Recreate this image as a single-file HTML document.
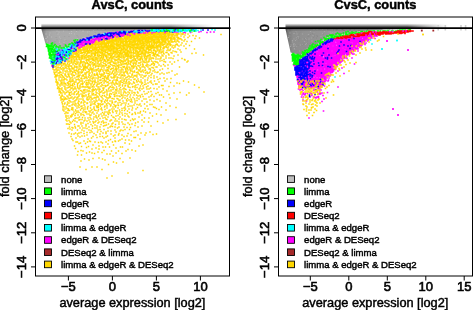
<!DOCTYPE html>
<html><head><meta charset="utf-8"><style>
html,body{margin:0;padding:0;background:#fff;overflow:hidden}
body{width:473px;height:310px}
svg{display:block;will-change:transform}
text{stroke:#000;stroke-width:.45px}
.tk{stroke-width:.6px}
</style></head><body>
<svg width="473" height="310" viewBox="0 0 473 310">
<rect width="473" height="310" fill="#fff"/>
<clipPath id="c0"><rect x="35.5" y="17" width="194" height="259"/></clipPath>
<g clip-path="url(#c0)"><linearGradient id="hL" gradientUnits="userSpaceOnUse" x1="41.2" x2="212" y1="0" y2="0"><stop offset="0" stop-color="#707070"/><stop offset="0.015" stop-color="#8c8c8c"/><stop offset="0.03" stop-color="#a0a0a0"/><stop offset="0.07" stop-color="#aaaaaa"/><stop offset="0.5" stop-color="#b0b0b0"/><stop offset="0.8" stop-color="#c0c0c0"/><stop offset="1" stop-color="#e0e0e0"/></linearGradient>
<polygon fill="url(#hL)"  points="41.2,28.2 212,28.2 212,29 205,29.1 160,29.4 145,29.9 135,30.4 125,31.1 115,31.9 105,33 95,35.2 85,38.2 80,39.8 75,42.3 68,46.5 62,48.5 56,47.5 50,44 45.4,43.5"/>
<path stroke="#bcbcbc" stroke-width="1.2" stroke-linecap="square" d="M103 29.5h0m-29 .5h0m1.5 0h0m49.5 0h0m-45 .5h0m3 0h0m10.5 0h0m-36.5 .5h0m6.5 0h0m55 0h0m-47 .5h0m5 0h0m6.5 0h0m6.5 0h0m-30.5 .5h0m28.5 0h0m13.5 0h0m4 0h0m4 0h0m-59 1h0m44.5 0h0m-25 .5h0m2 0h0m-25.5 .5h0m12 0h0m16.5 0h0m-25 1h0m-2 2h0m4 0h0m8 0h0m23.5 .5h0m1.5 0h0m-38.5 1h0m15 0h0m16.5 0h0m-12.5 1.5h0m11.5 .5h0m-29 .5h0m12 0h0m-9.5 1h0m9.5 .5h0m4.5 0h0m9 0h0m-3 .5h0m-9 1h0m-3.5 1.5h0m0 .5h0"/>
<path stroke="#a2a2a2" stroke-width="1.2" stroke-linecap="square" d="M97.5 29.5h0m8 0h0m29 0h0m6 0h0m-64.5 .5h0m47.5 0h0m-54.5 .5h0m44 0h0m0 0h0m-23 .5h0m-43.5 1.5h0m48.5 0h0m-38 .5h0m42.5 .5h0m-11 1.5h0m-11.5 .5h0m-12.5 1h0m4.5 0h0m9 .5h0m-22 .5h0m.5 0h0m5 1.5h0m-4.5 .5h0m0 .5h0m9 .5h0m-15.5 .5h0m4 .5h0m1 0h0m-1 .5h0m0 1h0m9.5 1h0m1 0h0m-5.5 2.5h0"/>
<linearGradient id="vL" x1="0" x2="0" y1="0" y2="1"><stop offset="0" stop-color="#000" stop-opacity="0.3"/><stop offset="1" stop-color="#000" stop-opacity="0"/></linearGradient>
<rect x="41.7" y="28.5" width="140.8" height="3" fill="url(#vL)"/>
<linearGradient id="aL" x1="0" x2="0" y1="0" y2="1"><stop offset="0" stop-color="#7a7a7a" stop-opacity="0.05"/><stop offset="0.35" stop-color="#7a7a7a" stop-opacity="0.45"/><stop offset="0.75" stop-color="#7a7a7a" stop-opacity="1"/></linearGradient>
<linearGradient id="faL" gradientUnits="userSpaceOnUse" x1="41.2" x2="214" y1="0" y2="0"><stop offset="0" stop-color="#fff"/><stop offset="0.75" stop-color="#fff"/><stop offset="1" stop-color="#000"/></linearGradient>
<mask id="mL"><rect x="41.2" y="23" width="172.8" height="6" fill="url(#faL)"/></mask>
<rect mask="url(#mL)" x="41.2" y="23.6" width="172.8" height="4.2" fill="url(#aL)"/>
<path stroke="#FFD700" stroke-width="1.45" stroke-linecap="square" d="M166 31.5h0m4 0h0m-26.5 .5h0m2 0h0m3.5 0h0m1 0h0m1.5 0h0m.5 0h0m1 0h0m3 0h0m1 0h0m.5 0h0m3.5 0h0m1 0h0m5.5 0h0m3.5 0h0m2 0h0m7.5 0h0m11.5 0h0m-46.5 .5h0m2.5 0h0m2.5 0h0m13 0h0m6 0h0m2.5 0h0m-45 .5h0m1 0h0m2 0h0m2 0h0m4 0h0m1 0h0m3 0h0m3.5 0h0m2.5 0h0m1.5 0h0m1.5 0h0m4 0h0m1 0h0m1.5 0h0m3.5 0h0m1.5 0h0m1 0h0m.5 0h0m1 0h0m1 0h0m1 0h0m1 0h0m1 0h0m1 0h0m1 0h0m5 0h0m2 0h0m7 0h0m2.5 0h0m-54.5 .5h0m.5 0h0m7 0h0m10.5 0h0m2 0h0m5 0h0m.5 0h0m1.5 0h0m11.5 0h0m.5 0h0m2 0h0m5 0h0m1 0h0m.5 0h0m-51.5 .5h0m2 0h0m1 0h0m5 0h0m2 0h0m2 0h0m1 0h0m.5 0h0m1.5 0h0m1 0h0m2.5 0h0m.5 0h0m4.5 0h0m2.5 0h0m2 0h0m1 0h0m5 0h0m3 0h0m1 0h0m1 0h0m1.5 0h0m1.5 0h0m7 0h0m3 0h0m2 0h0m1 0h0m6 0h0m-62 .5h0m6 0h0m1 0h0m4 0h0m7 0h0m2.5 0h0m1.5 0h0m1 0h0m3 0h0m0 0h0m2 0h0m0 0h0m3 0h0m1 0h0m1 0h0m1 0h0m0 0h0m3 0h0m.5 0h0m2 0h0m8 0h0m9.5 0h0m38 0h0m-112 .5h0m1 0h0m8 0h0m7 0h0m6 0h0m2 0h0m1 0h0m1 0h0m1.5 0h0m1.5 0h0m1 0h0m1 0h0m1 0h0m2 0h0m1 0h0m1 0h0m1.5 0h0m1.5 0h0m2 0h0m1 0h0m4 0h0m2 0h0m2 0h0m3 0h0m6 0h0m1 0h0m1 0h0m1.5 0h0m1 0h0m1.5 0h0m2 0h0m1.5 0h0m7.5 0h0m-63 .5h0m6 0h0m1 0h0m3 0h0m2 0h0m1 0h0m2 0h0m10 0h0m6 0h0m8.5 0h0m3 0h0m28.5 0h0m-77 .5h0m1 0h0m7 0h0m.5 0h0m1.5 0h0m1 0h0m2 0h0m1 0h0m2.5 0h0m3.5 0h0m2.5 0h0m1 0h0m1 0h0m.5 0h0m1 0h0m1 0h0m2 0h0m1 0h0m2 0h0m3 0h0m3 0h0m1 0h0m1 0h0m1 0h0m3 0h0m4 0h0m.5 0h0m1.5 0h0m.5 0h0m1.5 0h0m1 0h0m3 0h0m3 0h0m2 0h0m4 0h0m8.5 0h0m6.5 0h0m-84.5 .5h0m1 0h0m5.5 0h0m2.5 0h0m2 0h0m5.5 0h0m3 0h0m7 0h0m11 0h0m3 0h0m6 0h0m1 0h0m2 0h0m2 0h0m-64.5 .5h0m12 0h0m4.5 0h0m1 0h0m2.5 0h0m2.5 0h0m.5 0h0m2.5 0h0m2 0h0m3 0h0m1.5 0h0m2 0h0m.5 0h0m.5 0h0m1.5 0h0m2 0h0m1.5 0h0m3.5 0h0m1.5 0h0m.5 0h0m.5 0h0m1.5 0h0m4 0h0m1 0h0m2 0h0m1 0h0m2 0h0m1 0h0m2 0h0m1 0h0m1 0h0m1 0h0m3 0h0m1 0h0m2.5 0h0m2.5 0h0m2 0h0m11 0h0m-90 .5h0m1 0h0m19 0h0m2 0h0m2 0h0m0 0h0m3 0h0m3.5 0h0m2.5 0h0m1 0h0m8 0h0m5 0h0m6 0h0m1 0h0m7 0h0m2.5 0h0m2.5 0h0m3.5 0h0m0 0h0m7 0h0m3.5 0h0m3 0h0m1.5 0h0m9.5 0h0m-91 .5h0m10 0h0m2 0h0m3 0h0m3 0h0m4 0h0m5.5 0h0m1.5 0h0m2 0h0m1 0h0m.5 0h0m2 0h0m.5 0h0m1 0h0m2 0h0m3 0h0m1 0h0m1 0h0m1 0h0m2 0h0m1.5 0h0m1.5 0h0m3 0h0m1 0h0m1.5 0h0m1.5 0h0m2 0h0m1.5 0h0m1.5 0h0m3 0h0m4 0h0m.5 0h0m2 0h0m1.5 0h0m1 0h0m1.5 0h0m3.5 0h0m24.5 0h0m-89.5 .5h0m2 0h0m8.5 0h0m1.5 0h0m3 0h0m2 0h0m7 0h0m3 0h0m2.5 0h0m3 0h0m1.5 0h0m4.5 0h0m3.5 0h0m6.5 0h0m4 0h0m1.5 0h0m7 0h0m7 0h0m2 0h0m15 0h0m-104 .5h0m1.5 0h0m8.5 0h0m2 0h0m1 0h0m4 0h0m3 0h0m2 0h0m2 0h0m1 0h0m1 0h0m1 0h0m1 0h0m1 0h0m2 0h0m1 0h0m1 0h0m1.5 0h0m1.5 0h0m1 0h0m2 0h0m1 0h0m1 0h0m3 0h0m1 0h0m1 0h0m1 0h0m1.5 0h0m2.5 0h0m1 0h0m3 0h0m1 0h0m2 0h0m1 0h0m1 0h0m1 0h0m1 0h0m6 0h0m2 0h0m1 0h0m3 0h0m1 0h0m4.5 0h0m1.5 0h0m1 0h0m1 0h0m5 0h0m2 0h0m-79 .5h0m3 0h0m3 0h0m4.5 0h0m3.5 0h0m3 0h0m1 0h0m7 0h0m3.5 0h0m9.5 0h0m4 0h0m1.5 0h0m.5 0h0m2.5 0h0m5.5 0h0m1 0h0m2 0h0m0 0h0m10 0h0m1 0h0m7 0h0m10 0h0m-88.5 .5h0m7.5 0h0m2 0h0m1 0h0m2 0h0m2 0h0m2.5 0h0m1.5 0h0m2 0h0m4 0h0m2 0h0m2.5 0h0m3.5 0h0m3 0h0m1.5 0h0m1.5 0h0m3 0h0m1 0h0m2 0h0m1 0h0m.5 0h0m4.5 0h0m2 0h0m2 0h0m1 0h0m1 0h0m.5 0h0m2.5 0h0m2 0h0m1 0h0m.5 0h0m2 0h0m1 0h0m1.5 0h0m4 0h0m3 0h0m4 0h0m2 0h0m5 0h0m-79 .5h0m1.5 0h0m1.5 0h0m5.5 0h0m4.5 0h0m10.5 0h0m3.5 0h0m4 0h0m3 0h0m8 0h0m0 0h0m3 0h0m14.5 0h0m3.5 0h0m-67.5 .5h0m1.5 0h0m1 0h0m2 0h0m1 0h0m3 0h0m2 0h0m1 0h0m2.5 0h0m1.5 0h0m1 0h0m2 0h0m1 0h0m.5 0h0m1.5 0h0m1 0h0m1 0h0m.5 0h0m1.5 0h0m2.5 0h0m2 0h0m5.5 0h0m1.5 0h0m.5 0h0m1 0h0m3 0h0m1 0h0m1 0h0m1 0h0m2.5 0h0m1.5 0h0m1 0h0m3 0h0m.5 0h0m1 0h0m1.5 0h0m.5 0h0m3.5 0h0m1.5 0h0m3.5 0h0m2 0h0m3 0h0m2 0h0m2 0h0m5.5 0h0m.5 0h0m6 0h0m-93 .5h0m4 0h0m1 0h0m4 0h0m.5 0h0m7.5 0h0m1.5 0h0m1.5 0h0m14 0h0m3 0h0m0 0h0m3 0h0m2 0h0m5.5 0h0m1.5 0h0m5.5 0h0m3.5 0h0m0 0h0m1 0h0m7 0h0m6.5 0h0m5.5 0h0m5.5 0h0m12.5 0h0m4.5 0h0m-110.5 .5h0m16 0h0m1.5 0h0m.5 0h0m3.5 0h0m2 0h0m2.5 0h0m3 0h0m1 0h0m3 0h0m2 0h0m2 0h0m.5 0h0m5 0h0m2 0h0m.5 0h0m1.5 0h0m2 0h0m.5 0h0m1 0h0m1 0h0m1 0h0m1 0h0m1 0h0m.5 0h0m2.5 0h0m1 0h0m3.5 0h0m1.5 0h0m3 0h0m3 0h0m1 0h0m2.5 0h0m1 0h0m0 0h0m1.5 0h0m2 0h0m1 0h0m2 0h0m1.5 0h0m1.5 0h0m1.5 0h0m3 0h0m3 0h0m.5 0h0m1 0h0m3 0h0m3 0h0m-83 .5h0m5 0h0m2 0h0m9 0h0m.5 0h0m8 0h0m1.5 0h0m.5 0h0m10.5 0h0m7.5 0h0m5.5 0h0m2.5 0h0m5 0h0m4.5 0h0m1.5 0h0m5.5 0h0m1 0h0m-90.5 .5h0m4.5 0h0m12.5 0h0m2.5 0h0m1 0h0m3 0h0m3 0h0m1 0h0m2 0h0m1 0h0m2 0h0m1 0h0m1 0h0m2 0h0m1 0h0m1 0h0m2.5 0h0m0 0h0m1.5 0h0m2 0h0m1 0h0m1 0h0m1 0h0m2.5 0h0m.5 0h0m1 0h0m2.5 0h0m.5 0h0m2 0h0m3 0h0m2.5 0h0m0 0h0m2.5 0h0m1 0h0m2 0h0m4.5 0h0m1.5 0h0m3 0h0m3 0h0m1 0h0m1.5 0h0m4.5 0h0m8 0h0m12 0h0m-84 .5h0m2 0h0m4 0h0m3.5 0h0m29.5 0h0m5 0h0m1.5 0h0m1 0h0m.5 0h0m16 0h0m7 0h0m-91 .5h0m7 0h0m.5 0h0m3.5 0h0m4.5 0h0m2 0h0m1 0h0m1.5 0h0m4 0h0m1.5 0h0m2 0h0m1.5 0h0m.5 0h0m4.5 0h0m1 0h0m2 0h0m1 0h0m1.5 0h0m0 0h0m1.5 0h0m2.5 0h0m3.5 0h0m4 0h0m1.5 0h0m1.5 0h0m1 0h0m2 0h0m.5 0h0m1.5 0h0m2 0h0m1 0h0m1.5 0h0m2.5 0h0m4 0h0m2.5 0h0m2 0h0m.5 0h0m2 0h0m.5 0h0m2 0h0m3.5 0h0m.5 0h0m2.5 0h0m2 0h0m2 0h0m2.5 0h0m7.5 0h0m9 0h0m-100.5 .5h0m6.5 0h0m1 0h0m5 0h0m2 0h0m6.5 0h0m2 0h0m10.5 0h0m4 0h0m3 0h0m4 0h0m2.5 0h0m13.5 0h0m13 0h0m5 0h0m6.5 0h0m5.5 0h0m-88.5 .5h0m1.5 0h0m1 0h0m.5 0h0m3.5 0h0m1 0h0m1 0h0m.5 0h0m1.5 0h0m1 0h0m3 0h0m2 0h0m1.5 0h0m5 0h0m2 0h0m1.5 0h0m2 0h0m1 0h0m2 0h0m1 0h0m1 0h0m2 0h0m2 0h0m1.5 0h0m.5 0h0m6.5 0h0m1.5 0h0m.5 0h0m1.5 0h0m1 0h0m1 0h0m2 0h0m2 0h0m1 0h0m2 0h0m1 0h0m2 0h0m.5 0h0m4.5 0h0m7 0h0m1.5 0h0m4.5 0h0m1 0h0m3 0h0m6.5 0h0m3.5 0h0m-88.5 .5h0m0 0h0m6.5 0h0m2 0h0m10 0h0m5.5 0h0m1.5 0h0m1 0h0m5.5 0h0m3.5 0h0m.5 0h0m.5 0h0m3 0h0m2 0h0m3 0h0m5.5 0h0m8.5 0h0m1.5 0h0m3.5 0h0m2 0h0m5 0h0m7 0h0m3 0h0m2 0h0m14.5 0h0m-116 .5h0m7.5 0h0m5.5 0h0m1.5 0h0m2 0h0m1.5 0h0m10.5 0h0m2 0h0m2 0h0m1 0h0m1 0h0m1 0h0m1 0h0m1.5 0h0m1 0h0m5.5 0h0m3 0h0m1 0h0m2 0h0m2 0h0m3 0h0m2 0h0m2 0h0m1 0h0m5 0h0m2 0h0m1 0h0m2 0h0m1 0h0m2 0h0m1 0h0m1.5 0h0m1.5 0h0m2 0h0m1 0h0m2 0h0m1 0h0m2 0h0m1 0h0m.5 0h0m5.5 0h0m13 0h0m5 0h0m-115 .5h0m7 0h0m8.5 0h0m11 0h0m9.5 0h0m9 0h0m9 0h0m7 0h0m19 0h0m9 0h0m-80.5 .5h0m4.5 0h0m1 0h0m1.5 0h0m1.5 0h0m2 0h0m1 0h0m4 0h0m1 0h0m1 0h0m2 0h0m1 0h0m1 0h0m1 0h0m1 0h0m1 0h0m.5 0h0m1 0h0m2 0h0m1.5 0h0m1 0h0m2.5 0h0m1.5 0h0m1.5 0h0m.5 0h0m1 0h0m2 0h0m2 0h0m1 0h0m.5 0h0m2.5 0h0m1 0h0m2 0h0m1 0h0m.5 0h0m1 0h0m2 0h0m2.5 0h0m2 0h0m2 0h0m1 0h0m2 0h0m1 0h0m1 0h0m2.5 0h0m3 0h0m2.5 0h0m2 0h0m2 0h0m2 0h0m1 0h0m3 0h0m1 0h0m3 0h0m1 0h0m1.5 0h0m2 0h0m3.5 0h0m3 0h0m-105 .5h0m8.5 0h0m3.5 0h0m2 0h0m6.5 0h0m1.5 0h0m6 0h0m6 0h0m6 0h0m22 0h0m4 0h0m7.5 0h0m3.5 0h0m2 0h0m1.5 0h0m2.5 0h0m1.5 0h0m12.5 0h0m-90 .5h0m1.5 0h0m1.5 0h0m3 0h0m4.5 0h0m.5 0h0m2 0h0m.5 0h0m1.5 0h0m2 0h0m.5 0h0m1.5 0h0m3.5 0h0m2.5 0h0m1 0h0m3 0h0m1.5 0h0m1.5 0h0m1 0h0m3 0h0m3 0h0m1 0h0m2 0h0m1 0h0m1 0h0m.5 0h0m2 0h0m1 0h0m3 0h0m2.5 0h0m1 0h0m2 0h0m1.5 0h0m1 0h0m2 0h0m1.5 0h0m1 0h0m1 0h0m2 0h0m3 0h0m2.5 0h0m5.5 0h0m2 0h0m2 0h0m5 0h0m10.5 0h0m-101 .5h0m8 0h0m5.5 0h0m11 0h0m2.5 0h0m6.5 0h0m5 0h0m3.5 0h0m3.5 0h0m1 0h0m14.5 0h0m4 0h0m5 0h0m1 0h0m3 0h0m4.5 0h0m1 0h0m8.5 0h0m3.5 0h0m22 0h0m-111.5 .5h0m1.5 0h0m1 0h0m3 0h0m4 0h0m1 0h0m.5 0h0m4 0h0m0 0h0m3 0h0m2 0h0m1 0h0m5 0h0m1.5 0h0m2 0h0m4 0h0m1 0h0m3 0h0m1 0h0m1 0h0m2 0h0m5.5 0h0m1.5 0h0m1 0h0m1 0h0m1 0h0m1 0h0m2.5 0h0m.5 0h0m6 0h0m3 0h0m2 0h0m3 0h0m3.5 0h0m3.5 0h0m3 0h0m3 0h0m3.5 0h0m2.5 0h0m5 0h0m2.5 0h0m7.5 0h0m16.5 0h0m-132.5 .5h0m11 0h0m5.5 0h0m4.5 0h0m1 0h0m3.5 0h0m6.5 0h0m1 0h0m4 0h0m0 0h0m9 0h0m9 0h0m16 0h0m.5 0h0m5.5 0h0m10 0h0m1 0h0m4 0h0m-96.5 .5h0m15.5 0h0m6.5 0h0m1.5 0h0m1 0h0m1 0h0m2 0h0m2 0h0m5.5 0h0m.5 0h0m3.5 0h0m1.5 0h0m3 0h0m1 0h0m1 0h0m2 0h0m1.5 0h0m1 0h0m2 0h0m1.5 0h0m1 0h0m4 0h0m1.5 0h0m3.5 0h0m1 0h0m1 0h0m2.5 0h0m5 0h0m.5 0h0m2 0h0m2 0h0m5 0h0m.5 0h0m2.5 0h0m3 0h0m2.5 0h0m2 0h0m7.5 0h0m1 0h0m2 0h0m9 0h0m10 0h0m-91 .5h0m1.5 0h0m1 0h0m4.5 0h0m3 0h0m2.5 0h0m12.5 0h0m5.5 0h0m1.5 0h0m6 0h0m1 0h0m3 0h0m6 0h0m0 0h0m7.5 0h0m4.5 0h0m4.5 0h0m1.5 0h0m12 0h0m2 0h0m-93 .5h0m1 0h0m1 0h0m2 0h0m.5 0h0m3.5 0h0m2 0h0m2 0h0m1 0h0m3 0h0m2 0h0m4 0h0m5 0h0m1 0h0m1 0h0m4 0h0m1 0h0m3 0h0m5 0h0m3.5 0h0m2.5 0h0m1 0h0m3 0h0m1 0h0m6.5 0h0m5 0h0m1.5 0h0m2 0h0m2 0h0m5.5 0h0m5.5 0h0m2.5 0h0m3.5 0h0m.5 0h0m9.5 0h0m-92 .5h0m6 0h0m5 0h0m3.5 0h0m10 0h0m5.5 0h0m4.5 0h0m.5 0h0m4.5 0h0m10.5 0h0m2.5 0h0m2.5 0h0m3.5 0h0m6 0h0m10 0h0m19.5 0h0m-118 .5h0m3 0h0m14 0h0m4.5 0h0m.5 0h0m5 0h0m1.5 0h0m2 0h0m3.5 0h0m6.5 0h0m2 0h0m1.5 0h0m2 0h0m2 0h0m2.5 0h0m3.5 0h0m2 0h0m1 0h0m2 0h0m1 0h0m6 0h0m1 0h0m1 0h0m2 0h0m1 0h0m1.5 0h0m4 0h0m2.5 0h0m1.5 0h0m1.5 0h0m3.5 0h0m4 0h0m1.5 0h0m8 0h0m3 0h0m2 0h0m1 0h0m14.5 0h0m4.5 0h0m-118 .5h0m9.5 0h0m4 0h0m5.5 0h0m1 0h0m1 0h0m4.5 0h0m1 0h0m7.5 0h0m1 0h0m4.5 0h0m3.5 0h0m1 0h0m8 0h0m3 0h0m1 0h0m5 0h0m5.5 0h0m2 0h0m10.5 0h0m7 0h0m1 0h0m.5 0h0m2.5 0h0m.5 0h0m12.5 0h0m1 0h0m4 0h0m-106 .5h0m2.5 0h0m5 0h0m.5 0h0m2 0h0m.5 0h0m2.5 0h0m3 0h0m4 0h0m2.5 0h0m1.5 0h0m4 0h0m1 0h0m.5 0h0m1 0h0m1 0h0m3.5 0h0m1 0h0m4 0h0m2.5 0h0m3.5 0h0m5 0h0m4.5 0h0m.5 0h0m1 0h0m4 0h0m1.5 0h0m3.5 0h0m2 0h0m.5 0h0m1.5 0h0m2.5 0h0m1 0h0m2.5 0h0m2 0h0m1.5 0h0m1.5 0h0m6 0h0m7 0h0m2 0h0m2.5 0h0m8.5 0h0m24 0h0m-116 .5h0m0 0h0m2 0h0m10 0h0m16.5 0h0m1 0h0m1.5 0h0m2 0h0m1 0h0m11 0h0m9 0h0m8 0h0m6 0h0m7.5 0h0m36.5 0h0m-118 .5h0m1 0h0m2 0h0m9.5 0h0m.5 0h0m4 0h0m1 0h0m2 0h0m1.5 0h0m2.5 0h0m4 0h0m1 0h0m1 0h0m5 0h0m3.5 0h0m3.5 0h0m.5 0h0m1 0h0m2 0h0m1.5 0h0m1.5 0h0m4.5 0h0m2 0h0m7 0h0m1 0h0m2 0h0m4 0h0m2 0h0m8.5 0h0m1.5 0h0m9 0h0m4.5 0h0m-112.5 .5h0m20 0h0m2 0h0m6 0h0m24 0h0m18 0h0m2.5 0h0m2.5 0h0m9 0h0m1 0h0m8.5 0h0m8 0h0m-100 .5h0m14 0h0m1.5 0h0m6 0h0m7.5 0h0m5.5 0h0m2.5 0h0m3 0h0m2 0h0m2.5 0h0m2 0h0m1 0h0m1 0h0m2 0h0m1.5 0h0m.5 0h0m2 0h0m3 0h0m3.5 0h0m.5 0h0m2 0h0m3 0h0m1.5 0h0m5.5 0h0m2 0h0m4 0h0m1.5 0h0m5.5 0h0m1.5 0h0m4 0h0m1 0h0m6 0h0m1.5 0h0m4 0h0m7 0h0m9 0h0m25.5 0h0m-121.5 .5h0m1 0h0m3 0h0m3 0h0m6.5 0h0m5 0h0m.5 0h0m10 0h0m16.5 0h0m10.5 0h0m10 0h0m5 0h0m1.5 0h0m3 0h0m-88 .5h0m2 0h0m1.5 0h0m3.5 0h0m1.5 0h0m1 0h0m2 0h0m1.5 0h0m2.5 0h0m3 0h0m1.5 0h0m1.5 0h0m1 0h0m2.5 0h0m3 0h0m.5 0h0m5 0h0m3.5 0h0m5 0h0m3.5 0h0m2 0h0m2.5 0h0m2.5 0h0m1 0h0m3 0h0m2 0h0m1 0h0m1.5 0h0m1 0h0m3.5 0h0m1 0h0m6 0h0m2 0h0m3.5 0h0m1.5 0h0m5.5 0h0m4.5 0h0m4 0h0m3 0h0m8 0h0m-111.5 .5h0m4.5 0h0m7 0h0m1 0h0m2.5 0h0m21.5 0h0m4.5 0h0m2 0h0m8 0h0m3.5 0h0m1.5 0h0m8.5 0h0m6.5 0h0m6 0h0m6.5 0h0m-76 .5h0m2.5 0h0m3 0h0m2.5 0h0m4 0h0m2 0h0m1 0h0m2 0h0m1 0h0m2.5 0h0m3 0h0m8 0h0m5 0h0m1.5 0h0m2.5 0h0m.5 0h0m2 0h0m1 0h0m4 0h0m3 0h0m2.5 0h0m1.5 0h0m5 0h0m4 0h0m3 0h0m1 0h0m3 0h0m1 0h0m2.5 0h0m2.5 0h0m3.5 0h0m5.5 0h0m5 0h0m-89 .5h0m7.5 0h0m16.5 0h0m7.5 0h0m12.5 0h0m.5 0h0m3.5 0h0m8 0h0m4 0h0m-61 .5h0m3 0h0m2.5 0h0m2.5 0h0m2 0h0m1.5 0h0m2.5 0h0m1 0h0m3 0h0m3 0h0m3 0h0m1.5 0h0m1.5 0h0m2 0h0m.5 0h0m1.5 0h0m4.5 0h0m0 0h0m3 0h0m1.5 0h0m1.5 0h0m9.5 0h0m2 0h0m6 0h0m1 0h0m3 0h0m3 0h0m7.5 0h0m2.5 0h0m2 0h0m3 0h0m1 0h0m8 0h0m5 0h0m3 0h0m2 0h0m-111 .5h0m7.5 0h0m14.5 0h0m10.5 0h0m26.5 0h0m12 0h0m9 0h0m1 0h0m5 0h0m7.5 0h0m19.5 0h0m9 0h0m-120.5 .5h0m1.5 0h0m2 0h0m2 0h0m2 0h0m2 0h0m2 0h0m3 0h0m6 0h0m2 0h0m6 0h0m1 0h0m2.5 0h0m4.5 0h0m2 0h0m3 0h0m4 0h0m2 0h0m3 0h0m2 0h0m4 0h0m6 0h0m2.5 0h0m1.5 0h0m6 0h0m1 0h0m.5 0h0m2.5 0h0m4.5 0h0m7.5 0h0m1 0h0m5 0h0m2 0h0m2 0h0m-102.5 .5h0m19.5 0h0m2 0h0m.5 0h0m7.5 0h0m1 0h0m5.5 0h0m2.5 0h0m8.5 0h0m10.5 0h0m27.5 0h0m21.5 0h0m20.5 0h0m-121.5 .5h0m8.5 0h0m3 0h0m2.5 0h0m4 0h0m5 0h0m2 0h0m1 0h0m3.5 0h0m2.5 0h0m2 0h0m3 0h0m2 0h0m3 0h0m2.5 0h0m3.5 0h0m5 0h0m1 0h0m2 0h0m1.5 0h0m3.5 0h0m2 0h0m6.5 0h0m.5 0h0m6 0h0m1 0h0m.5 0h0m4.5 0h0m1.5 0h0m2.5 0h0m36 0h0m-123 .5h0m2 0h0m29.5 0h0m7.5 0h0m8 0h0m8 0h0m5 0h0m6 0h0m7.5 0h0m26.5 0h0m16 0h0m-111 .5h0m1.5 0h0m1.5 0h0m2 0h0m2 0h0m1 0h0m6 0h0m5.5 0h0m2.5 0h0m6 0h0m3 0h0m1 0h0m5 0h0m1.5 0h0m2 0h0m3.5 0h0m1 0h0m3 0h0m9 0h0m1.5 0h0m3.5 0h0m2 0h0m1 0h0m2 0h0m3 0h0m6 0h0m8.5 0h0m8.5 0h0m28 0h0m-125.5 .5h0m18 0h0m3.5 0h0m7 0h0m30 0h0m15.5 0h0m12.5 0h0m6 0h0m9 0h0m-95 .5h0m2.5 0h0m2.5 0h0m2.5 0h0m1.5 0h0m4 0h0m1 0h0m1 0h0m12 0h0m2 0h0m3 0h0m5 0h0m5 0h0m2 0h0m5 0h0m1 0h0m3.5 0h0m1 0h0m0 0h0m4.5 0h0m2.5 0h0m10.5 0h0m2 0h0m1.5 0h0m2 0h0m1.5 0h0m5 0h0m3 0h0m1 0h0m8.5 0h0m4.5 0h0m4.5 0h0m12.5 0h0m-99.5 .5h0m2.5 0h0m.5 0h0m2 0h0m.5 0h0m10 0h0m0 0h0m6.5 0h0m21.5 0h0m14 0h0m-88.5 .5h0m4 0h0m1.5 0h0m3 0h0m2.5 0h0m3.5 0h0m2 0h0m5 0h0m2 0h0m1 0h0m4 0h0m1 0h0m12 0h0m3 0h0m7 0h0m2 0h0m3.5 0h0m1 0h0m1.5 0h0m2 0h0m2.5 0h0m6 0h0m2 0h0m4.5 0h0m1.5 0h0m1.5 0h0m2.5 0h0m.5 0h0m1 0h0m18 0h0m-106 .5h0m11.5 0h0m11.5 0h0m10.5 0h0m2 0h0m7.5 0h0m9 0h0m4 0h0m2 0h0m4.5 0h0m10.5 0h0m28.5 0h0m-97.5 .5h0m4 0h0m4 0h0m1 0h0m2.5 0h0m2 0h0m6.5 0h0m1 0h0m3 0h0m3 0h0m5.5 0h0m3.5 0h0m2 0h0m3 0h0m3 0h0m5.5 0h0m10.5 0h0m6 0h0m1.5 0h0m.5 0h0m2 0h0m.5 0h0m3.5 0h0m6 0h0m6.5 0h0m4.5 0h0m5 0h0m2.5 0h0m17.5 0h0m-114 .5h0m3 0h0m12 0h0m3 0h0m14 0h0m9 0h0m11.5 0h0m17.5 0h0m2.5 0h0m3 0h0m2.5 0h0m7 0h0m8.5 0h0m12 0h0m-111.5 .5h0m2 0h0m3 0h0m2 0h0m4 0h0m3 0h0m3 0h0m10 0h0m3.5 0h0m2.5 0h0m4 0h0m4.5 0h0m1.5 0h0m6.5 0h0m5 0h0m5.5 0h0m6.5 0h0m1.5 0h0m1.5 0h0m19 0h0m7.5 0h0m11 0h0m9 0h0m-65 .5h0m3 0h0m8 0h0m3 0h0m21 0h0m8 0h0m4 0h0m4 0h0m-101 .5h0m8.5 0h0m3.5 0h0m2 0h0m3 0h0m1 0h0m.5 0h0m3 0h0m5.5 0h0m3 0h0m5 0h0m2.5 0h0m2.5 0h0m3 0h0m1 0h0m1 0h0m2 0h0m3.5 0h0m1.5 0h0m3.5 0h0m.5 0h0m4 0h0m2 0h0m12 0h0m4.5 0h0m1.5 0h0m2 0h0m4 0h0m4 0h0m3.5 0h0m14.5 0h0m4 0h0m-111 .5h0m2 0h0m12.5 0h0m8.5 0h0m7 0h0m1.5 0h0m13 0h0m11.5 0h0m8 0h0m5 0h0m1.5 0h0m-69.5 .5h0m3 0h0m17 0h0m1.5 0h0m2.5 0h0m2 0h0m6 0h0m8.5 0h0m6 0h0m.5 0h0m14 0h0m3 0h0m4 0h0m4 0h0m2 0h0m3 0h0m2 0h0m2.5 0h0m5.5 0h0m2 0h0m4 0h0m8 0h0m1 0h0m22.5 0h0m-119 .5h0m2.5 0h0m3 0h0m6 0h0m35 0h0m1 0h0m13 0h0m3 0h0m16 0h0m12 0h0m-99 .5h0m4 0h0m2 0h0m4 0h0m2 0h0m4 0h0m5 0h0m3 0h0m6.5 0h0m1.5 0h0m1 0h0m1.5 0h0m2.5 0h0m1 0h0m2.5 0h0m10.5 0h0m5 0h0m4.5 0h0m2.5 0h0m2.5 0h0m7.5 0h0m4 0h0m3.5 0h0m11.5 0h0m8.5 0h0m-86.5 .5h0m6 0h0m25.5 0h0m13 0h0m1 0h0m15 0h0m9.5 0h0m13 0h0m18 0h0m-115 .5h0m3 0h0m5 0h0m.5 0h0m2.5 0h0m5 0h0m1 0h0m2 0h0m7 0h0m1 0h0m4 0h0m8.5 0h0m5.5 0h0m3.5 0h0m14 0h0m1.5 0h0m5 0h0m3.5 0h0m6.5 0h0m4.5 0h0m4 0h0m8.5 0h0m13.5 0h0m-79.5 .5h0m5.5 0h0m2.5 0h0m5 0h0m5 0h0m6 0h0m1 0h0m2.5 0h0m.5 0h0m19 0h0m-76 .5h0m1 0h0m2 0h0m.5 0h0m1.5 0h0m4 0h0m7 0h0m4 0h0m2.5 0h0m2 0h0m3 0h0m4 0h0m4 0h0m2.5 0h0m2 0h0m3 0h0m3 0h0m3 0h0m2 0h0m9 0h0m2 0h0m3 0h0m2 0h0m2 0h0m3 0h0m2 0h0m10.5 0h0m.5 0h0m4 0h0m2.5 0h0m5 0h0m4 0h0m5.5 0h0m-93 .5h0m8 0h0m8.5 0h0m12.5 0h0m20.5 0h0m14 0h0m14.5 0h0m-88 .5h0m6 0h0m2 0h0m5 0h0m1.5 0h0m5.5 0h0m15 0h0m2 0h0m2 0h0m2.5 0h0m2 0h0m2.5 0h0m3 0h0m1 0h0m1.5 0h0m4.5 0h0m17.5 0h0m1.5 0h0m2.5 0h0m5.5 0h0m2 0h0m11 0h0m19 0h0m-112 .5h0m29 0h0m32 0h0m5 0h0m-72 .5h0m2 0h0m10 0h0m2 0h0m2 0h0m2.5 0h0m1.5 0h0m4 0h0m1 0h0m2 0h0m1.5 0h0m4.5 0h0m1 0h0m4 0h0m7.5 0h0m10.5 0h0m2.5 0h0m2.5 0h0m2 0h0m2 0h0m4 0h0m2 0h0m2.5 0h0m5.5 0h0m1.5 0h0m3.5 0h0m3 0h0m2.5 0h0m3.5 0h0m3 0h0m5 0h0m3 0h0m-102 .5h0m5 0h0m14.5 0h0m6.5 0h0m22 0h0m17 0h0m15.5 0h0m20.5 0h0m12 0h0m-114.5 .5h0m3.5 0h0m1 0h0m.5 0h0m3.5 0h0m9.5 0h0m6.5 0h0m2 0h0m4 0h0m1.5 0h0m3.5 0h0m2.5 0h0m4.5 0h0m7.5 0h0m2 0h0m5.5 0h0m3 0h0m9 0h0m3 0h0m3 0h0m8 0h0m7.5 0h0m3.5 0h0m13 0h0m5 0h0m-59 .5h0m1 0h0m38.5 0h0m4.5 0h0m-97.5 .5h0m10.5 0h0m.5 0h0m2.5 0h0m1 0h0m2 0h0m5 0h0m2 0h0m7 0h0m4 0h0m5.5 0h0m5 0h0m2.5 0h0m2 0h0m7 0h0m2.5 0h0m3.5 0h0m3 0h0m4 0h0m4 0h0m4.5 0h0m6.5 0h0m21 0h0m4 0h0m13 0h0m-115.5 .5h0m35 0h0m1 0h0m3.5 0h0m21 0h0m10 0h0m-76 .5h0m1.5 0h0m2.5 0h0m5 0h0m3.5 0h0m3.5 0h0m1 0h0m7 0h0m3 0h0m.5 0h0m2.5 0h0m3 0h0m3 0h0m2 0h0m3 0h0m6 0h0m6.5 0h0m4.5 0h0m2 0h0m3 0h0m18 0h0m3 0h0m2 0h0m9 0h0m24 0h0m-119.5 .5h0m6.5 0h0m12 0h0m.5 0h0m4.5 0h0m10.5 0h0m5.5 0h0m13 0h0m14.5 0h0m2.5 0h0m7 0h0m3 0h0m11 0h0m-89 .5h0m2 0h0m3.5 0h0m3.5 0h0m3 0h0m9 0h0m4 0h0m1.5 0h0m14.5 0h0m3 0h0m1 0h0m3.5 0h0m9.5 0h0m6 0h0m3 0h0m4.5 0h0m.5 0h0m5 0h0m2 0h0m8 0h0m5 0h0m5 0h0m-77 .5h0m14 0h0m13 0h0m41 0h0m-90 .5h0m1 0h0m4.5 0h0m3 0h0m3.5 0h0m.5 0h0m2 0h0m3 0h0m4.5 0h0m2 0h0m6 0h0m1.5 0h0m2 0h0m4.5 0h0m6 0h0m9 0h0m.5 0h0m2.5 0h0m2.5 0h0m1.5 0h0m2 0h0m10.5 0h0m2.5 0h0m1 0h0m6 0h0m4 0h0m16 0h0m-93 .5h0m36.5 0h0m4.5 0h0m2 0h0m11 0h0m8 0h0m7 0h0m18 0h0m-92 .5h0m3 0h0m9 0h0m4 0h0m6.5 0h0m3.5 0h0m5 0h0m4 0h0m2 0h0m2 0h0m14 0h0m2 0h0m6 0h0m1 0h0m2 0h0m20 0h0m5 0h0m6 0h0m10 0h0m-83 .5h0m3 0h0m3 0h0m5 0h0m10.5 0h0m1.5 0h0m2.5 0h0m53.5 0h0m11 0h0m-115 .5h0m8.5 0h0m1.5 0h0m4 0h0m3 0h0m5.5 0h0m3.5 0h0m10.5 0h0m5.5 0h0m9 0h0m1.5 0h0m8.5 0h0m8 0h0m4 0h0m6 0h0m3 0h0m29 0h0m-90 .5h0m50 0h0m7 0h0m24 0h0m-101.5 .5h0m2.5 0h0m2.5 0h0m1.5 0h0m1 0h0m3 0h0m5 0h0m4 0h0m3 0h0m.5 0h0m9.5 0h0m1 0h0m5 0h0m5 0h0m1 0h0m3.5 0h0m9.5 0h0m2 0h0m6 0h0m2 0h0m7 0h0m10 0h0m4 0h0m2.5 0h0m-77.5 .5h0m16 0h0m2 0h0m12 0h0m9.5 0h0m.5 0h0m7.5 0h0m19 0h0m-76 .5h0m13 0h0m7.5 0h0m1.5 0h0m8.5 0h0m2 0h0m2 0h0m3 0h0m5 0h0m3 0h0m6.5 0h0m3.5 0h0m4.5 0h0m6 0h0m12 0h0m12.5 0h0m3.5 0h0m10.5 0h0m18.5 0h0m-127.5 .5h0m13 0h0m3 0h0m33 0h0m19 0h0m5 0h0m-73 .5h0m1.5 0h0m4.5 0h0m2 0h0m6.5 0h0m4.5 0h0m1 0h0m3.5 0h0m5 0h0m4.5 0h0m3.5 0h0m2 0h0m3.5 0h0m10 0h0m11 0h0m2 0h0m5 0h0m7.5 0h0m3.5 0h0m3 0h0m1.5 0h0m3.5 0h0m5 0h0m9 0h0m29.5 0h0m-120.5 .5h0m18.5 0h0m9.5 0h0m5.5 0h0m5.5 0h0m6 0h0m9.5 0h0m48 0h0m-113.5 .5h0m1 0h0m3 0h0m3 0h0m3.5 0h0m6.5 0h0m4.5 0h0m4 0h0m5.5 0h0m12 0h0m4 0h0m7 0h0m1 0h0m3.5 0h0m1 0h0m11.5 0h0m2 0h0m4 0h0m.5 0h0m8 0h0m5.5 0h0m3.5 0h0m25.5 0h0m-115 .5h0m3.5 0h0m12 0h0m5.5 0h0m7 0h0m2 0h0m17 0h0m11 0h0m4 0h0m2 0h0m53.5 0h0m-121.5 .5h0m6 0h0m4.5 0h0m1.5 0h0m2.5 0h0m8.5 0h0m1.5 0h0m3.5 0h0m8.5 0h0m3 0h0m1.5 0h0m15 0h0m3 0h0m1 0h0m11.5 0h0m2.5 0h0m9.5 0h0m4.5 0h0m9.5 0h0m1.5 0h0m-97 .5h0m14.5 0h0m8 0h0m5.5 0h0m14 0h0m36 0h0m6.5 0h0m8.5 0h0m-96 .5h0m5 0h0m4 0h0m11.5 0h0m9 0h0m4.5 0h0m2.5 0h0m3.5 0h0m11 0h0m4 0h0m3 0h0m5 0h0m2.5 0h0m5.5 0h0m8 0h0m58.5 0h0m-126.5 .5h0m3 0h0m1.5 0h0m7.5 0h0m23 0h0m2 0h0m2.5 0h0m18 0h0m36 0h0m1.5 0h0m-103 .5h0m4 0h0m6 0h0m3 0h0m23.5 0h0m4.5 0h0m5 0h0m13 0h0m3.5 0h0m2.5 0h0m10 0h0m5.5 0h0m2.5 0h0m5 0h0m26 0h0m-116 .5h0m19.5 0h0m5.5 0h0m5 0h0m4.5 0h0m8.5 0h0m4.5 0h0m5 0h0m17.5 0h0m5 0h0m36 0h0m-104 .5h0m4.5 0h0m5.5 0h0m2.5 0h0m2.5 0h0m2 0h0m2 0h0m1.5 0h0m1.5 0h0m3 0h0m2 0h0m2 0h0m4 0h0m1 0h0m11 0h0m3 0h0m3.5 0h0m12 0h0m4 0h0m14 0h0m12.5 0h0m-101 .5h0m10.5 0h0m43.5 0h0m8.5 0h0m9.5 0h0m5 0h0m2 0h0m62 0h0m-140 .5h0m3 0h0m3 0h0m2 0h0m4 0h0m1.5 0h0m2.5 0h0m3 0h0m2 0h0m8.5 0h0m14.5 0h0m1 0h0m5 0h0m5 0h0m10 0h0m16 0h0m3.5 0h0m7 0h0m-93 .5h0m2 0h0m11.5 0h0m19 0h0m13 0h0m51 0h0m-93 .5h0m4 0h0m9 0h0m2 0h0m3 0h0m14 0h0m2.5 0h0m2.5 0h0m1.5 0h0m9 0h0m8.5 0h0m2.5 0h0m3.5 0h0m2 0h0m14 0h0m3 0h0m5 0h0m2 0h0m8 0h0m6 0h0m-78 .5h0m8.5 0h0m6.5 0h0m13 0h0m3 0h0m10 0h0m9.5 0h0m-76.5 .5h0m3 0h0m4 0h0m4 0h0m3 0h0m10.5 0h0m1.5 0h0m2 0h0m5 0h0m2.5 0h0m2 0h0m7 0h0m3 0h0m4.5 0h0m4.5 0h0m5.5 0h0m8.5 0h0m-49 .5h0m.5 0h0m8 0h0m41 0h0m10 0h0m-80 .5h0m3 0h0m5 0h0m8.5 0h0m7.5 0h0m9 0h0m6 0h0m3 0h0m5 0h0m2 0h0m2 0h0m6 0h0m2 0h0m5 0h0m8 0h0m35 0h0m-88.5 .5h0m3.5 0h0m6 0h0m2 0h0m54 0h0m7 0h0m-92 .5h0m1.5 0h0m3.5 0h0m3 0h0m4.5 0h0m3 0h0m.5 0h0m3.5 0h0m7.5 0h0m6 0h0m4 0h0m5 0h0m4 0h0m2 0h0m8 0h0m6 0h0m4 0h0m3 0h0m9.5 0h0m11 0h0m55.5 0h0m-140 .5h0m2 0h0m3 0h0m1 0h0m30 0h0m13 0h0m21 0h0m24 0h0m22 0h0m-119.5 .5h0m1.5 0h0m16 0h0m5 0h0m1.5 0h0m12.5 0h0m6 0h0m1 0h0m12.5 0h0m2.5 0h0m4.5 0h0m2.5 0h0m3.5 0h0m2.5 0h0m3 0h0m3 0h0m36 0h0m15 0h0m-115 .5h0m15 0h0m4.5 0h0m5.5 0h0m11 0h0m37 0h0m9 0h0m-91 .5h0m4.5 0h0m2.5 0h0m5 0h0m4 0h0m11 0h0m15 0h0m4.5 0h0m3.5 0h0m6 0h0m24 0h0m-71 .5h0m2.5 0h0m2.5 0h0m9.5 0h0m7.5 0h0m18 0h0m14 0h0m14 0h0m10 0h0m17 0h0m-109.5 .5h0m2.5 0h0m7 0h0m13.5 0h0m3.5 0h0m7 0h0m2 0h0m4.5 0h0m7.5 0h0m2.5 0h0m13.5 0h0m7.5 0h0m3.5 0h0m2.5 0h0m23 0h0m2 0h0m25 0h0m-116 .5h0m13.5 0h0m18.5 0h0m2 0h0m12.5 0h0m4.5 0h0m3.5 0h0m15 0h0m-77.5 .5h0m4.5 0h0m12 0h0m3 0h0m4 0h0m3 0h0m2 0h0m6 0h0m7.5 0h0m5 0h0m5.5 0h0m2 0h0m2 0h0m8 0h0m11 0h0m13 0h0m-90 .5h0m23 0h0m17 0h0m9.5 0h0m4 0h0m5.5 0h0m23 0h0m11 0h0m-90 .5h0m4 0h0m4 0h0m3 0h0m3 0h0m4.5 0h0m5.5 0h0m9 0h0m1.5 0h0m7.5 0h0m17 0h0m7 0h0m10.5 0h0m8.5 0h0m14.5 0h0m-102.5 .5h0m16 0h0m13 0h0m5 0h0m7 0h0m8 0h0m23 0h0m-72.5 .5h0m5 0h0m5 0h0m.5 0h0m3 0h0m13 0h0m4.5 0h0m2.5 0h0m2 0h0m11 0h0m1.5 0h0m16.5 0h0m12 0h0m33 0h0m-101 .5h0m43 0h0m.5 0h0m4.5 0h0m5 0h0m5.5 0h0m-65.5 .5h0m2 0h0m2 0h0m1 0h0m6 0h0m4 0h0m2 0h0m2 0h0m2 0h0m6 0h0m3.5 0h0m6.5 0h0m4 0h0m11 0h0m4 0h0m13 0h0m3.5 0h0m4.5 0h0m5 0h0m2 0h0m31 0h0m-114.5 .5h0m2 0h0m22.5 0h0m70 0h0m-96 .5h0m15 0h0m7 0h0m5 0h0m3 0h0m5 0h0m3 0h0m6.5 0h0m2 0h0m12.5 0h0m6.5 0h0m2.5 0h0m2.5 0h0m18.5 0h0m-81 .5h0m32 0h0m18 0h0m18 0h0m-73.5 .5h0m6.5 0h0m4.5 0h0m.5 0h0m3.5 0h0m5.5 0h0m10 0h0m3 0h0m5 0h0m5 0h0m3 0h0m2 0h0m11 0h0m4 0h0m8 0h0m7 0h0m12 0h0m6 0h0m-81 .5h0m25.5 0h0m11.5 0h0m14.5 0h0m-68.5 .5h0m5.5 0h0m3.5 0h0m2 0h0m8.5 0h0m3.5 0h0m5 0h0m2 0h0m3.5 0h0m6 0h0m13.5 0h0m17 0h0m15 0h0m-85 .5h0m43 0h0m7.5 0h0m7.5 0h0m-55 .5h0m4 0h0m6 0h0m3 0h0m3 0h0m2.5 0h0m3.5 0h0m.5 0h0m7 0h0m13.5 0h0m4 0h0m6 0h0m6 0h0m2 0h0m9 0h0m31 0h0m-79 .5h0m11 0h0m24 0h0m-59.5 .5h0m2 0h0m3 0h0m5.5 0h0m3 0h0m2.5 0h0m12.5 0h0m2 0h0m6 0h0m1.5 0h0m2.5 0h0m3.5 0h0m3 0h0m19 0h0m11.5 0h0m4.5 0h0m-49.5 .5h0m7 0h0m12 0h0m23 0h0m13 0h0m2 0h0m-85 .5h0m5 0h0m2.5 0h0m5 0h0m4.5 0h0m.5 0h0m6.5 0h0m7.5 0h0m12.5 0h0m7 0h0m3 0h0m4.5 0h0m8.5 0h0m5 0h0m-48.5 .5h0m16.5 0h0m9 0h0m2.5 0h0m-55.5 .5h0m6 0h0m1 0h0m6 0h0m2 0h0m4 0h0m14.5 0h0m1.5 0h0m2.5 0h0m4.5 0h0m2 0h0m3.5 0h0m4.5 0h0m15 0h0m2 0h0m9 0h0m6 0h0m23 0h0m-89 .5h0m7 0h0m40 0h0m-65 .5h0m1 0h0m2 0h0m19 0h0m9 0h0m10.5 0h0m8.5 0h0m2.5 0h0m9.5 0h0m28.5 0h0m8 0h0m-89.5 .5h0m7 0h0m18 0h0m1.5 0h0m39 0h0m17.5 0h0m21 0h0m-103 .5h0m4 0h0m6 0h0m4.5 0h0m3 0h0m11 0h0m5.5 0h0m11 0h0m6 0h0m8.5 0h0m-65.5 .5h0m14.5 0h0m12.5 0h0m28 0h0m23 0h0m11.5 0h0m-93.5 .5h0m2 0h0m3.5 0h0m3.5 0h0m13 0h0m2.5 0h0m13.5 0h0m11 0h0m2 0h0m11.5 0h0m3.5 0h0m7 0h0m12 0h0m-76.5 .5h0m20.5 0h0m6.5 0h0m6.5 0h0m54 0h0m-96 .5h0m10 0h0m2.5 0h0m5 0h0m3 0h0m11 0h0m7.5 0h0m8 0h0m9.5 0h0m12.5 0h0m34 0h0m-98 .5h0m1.5 0h0m21.5 0h0m5 0h0m13 0h0m13 0h0m2.5 0h0m-60.5 .5h0m12 0h0m2 0h0m11 0h0m9 0h0m14.5 0h0m3 0h0m1.5 0h0m10.5 0h0m16 0h0m-58.5 .5h0m55.5 0h0m-74.5 .5h0m8 0h0m9 0h0m3.5 0h0m3.5 0h0m3 0h0m12 0h0m2 0h0m2 0h0m11 0h0m25.5 0h0m-68.5 .5h0m2 0h0m6.5 0h0m17 0h0m10.5 0h0m16.5 0h0m5.5 0h0m-68 .5h0m1 0h0m24 0h0m5 0h0m13 0h0m6.5 0h0m5.5 0h0m16 0h0m2 0h0m10 0h0m-85 .5h0m10.5 0h0m5.5 0h0m23 0h0m4 0h0m17 0h0m-51.5 .5h0m13.5 0h0m2 0h0m5 0h0m7 0h0m18.5 0h0m7.5 0h0m5.5 0h0m3 0h0m21 0h0m28.5 0h0m-113 .5h0m11 0h0m25.5 0h0m23.5 0h0m-54 .5h0m3 0h0m10 0h0m8 0h0m5 0h0m18.5 0h0m19.5 0h0m19 0h0m-95 .5h0m9 0h0m9 0h0m6 0h0m6 0h0m10 0h0m5.5 0h0m6.5 0h0m-50 .5h0m2.5 0h0m1.5 0h0m30 0h0m14 0h0m9 0h0m3 0h0m24.5 0h0m-54 .5h0m-32.5 .5h0m5 0h0m8.5 0h0m14.5 0h0m2 0h0m12 0h0m5 0h0m7 0h0m9 0h0m10 0h0m-56.5 .5h0m7.5 0h0m15 0h0m9 0h0m-45 .5h0m7 0h0m2 0h0m7 0h0m3 0h0m9 0h0m6 0h0m41.5 0h0m4.5 0h0m-82 .5h0m8 0h0m25 0h0m-9 .5h0m2.5 0h0m12.5 0h0m9.5 0h0m3.5 0h0m3 0h0m10.5 0h0m2.5 0h0m-55 .5h0m2 0h0m25 0h0m17.5 0h0m51.5 0h0m-110 .5h0m7.5 0h0m5.5 0h0m6 0h0m4 0h0m9 0h0m13 0h0m.5 0h0m14.5 0h0m7.5 0h0m8.5 0h0m26 0h0m-99 .5h0m61.5 0h0m-63.5 .5h0m8 0h0m9 0h0m3 0h0m9 0h0m7 0h0m7 0h0m5 0h0m2 0h0m-44.5 .5h0m20.5 0h0m64.5 0h0m-87.5 .5h0m7 0h0m13 0h0m5 0h0m4 0h0m2.5 0h0m17.5 0h0m3 0h0m16 0h0m6 0h0m4.5 0h0m-67.5 .5h0m23 0h0m2 0h0m-35 .5h0m12 0h0m10.5 0h0m4.5 0h0m5.5 0h0m9.5 0h0m15 0h0m7.5 0h0m27.5 0h0m-75 .5h0m-21.5 .5h0m1.5 0h0m13 0h0m27.5 0h0m3.5 0h0m7 0h0m4 0h0m9 0h0m-62.5 .5h0m5 0h0m11.5 0h0m5 0h0m10 0h0m14.5 0h0m9.5 0h0m4.5 0h0m-34.5 .5h0m11.5 0h0m-1.5 .5h0m30 0h0m-57 .5h0m1 0h0m3 0h0m4 0h0m6.5 0h0m4.5 0h0m6.5 0h0m7.5 0h0m31 0h0m9 0h0m-76 .5h0m37.5 0h0m-43 .5h0m19.5 0h0m11 0h0m10 0h0m5 0h0m4 0h0m5 0h0m14 0h0m-66 .5h0m55 0h0m3.5 0h0m-57.5 .5h0m2.5 0h0m4.5 0h0m3 0h0m2 0h0m10 0h0m2 0h0m11 0h0m9.5 0h0m-49.5 .5h0m19 0h0m5.5 0h0m-22.5 .5h0m30 .5h0m4 0h0m21 0h0m4.5 0h0m-57.5 .5h0m5.5 0h0m4.5 0h0m7 0h0m9 0h0m17 0h0m6 0h0m-30 .5h0m32 0h0m-39 .5h0m24 0h0m3 0h0m9 0h0m16 0h0m-35 .5h0m33 0h0m-42 .5h0m5.5 0h0m8.5 0h0m10 0h0m34 0h0m-69 .5h0m6 0h0m3 0h0m-21 .5h0m6.5 0h0m3.5 0h0m24 0h0m38 0h0m5 0h0m-62 .5h0m10 0h0m12 0h0m13 0h0m9 0h0m-56.5 .5h0m2.5 0h0m3.5 0h0m22.5 0h0m11 0h0m45.5 0h0m-3.5 .5h0m-66 .5h0m9 0h0m19 0h0m3.5 0h0m3.5 0h0m9 0h0m7 0h0m7 0h0m-67 1h0m4 0h0m2.5 0h0m23 0h0m6 0h0m13.5 0h0m-56 .5h0m22 0h0m7 0h0m2.5 0h0m21.5 0h0m-44 .5h0m26 0h0m-9 .5h0m37 0h0m1.5 0h0m-59.5 .5h0m15.5 0h0m12.5 0h0m11 0h0m-43 1h0m16 0h0m34 0h0m18 0h0m-29.5 .5h0m9.5 .5h0m5.5 0h0m3.5 0h0m-56 .5h0m35.5 0h0m-24.5 .5h0m5.5 0h0m25.5 0h0m3.5 0h0m13 0h0m-41 .5h0m25 0h0m-39.5 .5h0m1.5 0h0m10 0h0m7.5 0h0m6 0h0m5 0h0m6.5 0h0m-14 .5h0m-18 .5h0m22 0h0m22.5 0h0m-46 .5h0m6.5 0h0m22.5 .5h0m21.5 0h0m-36.5 1h0m20.5 0h0m29.5 0h0m-68.5 1h0m24.5 0h0m40 0h0m-57.5 .5h0m7 0h0m14.5 .5h0m2.5 0h0m4 0h0m11 0h0m2 0h0m-36 .5h0m9.5 .5h0m20 0h0m-40.5 .5h0m16.5 .5h0m7 0h0m29 .5h0m4 .5h0m-51 .5h0m23 0h0m-21 .5h0m28.5 0h0m7 0h0m7.5 0h0m9.5 0h0m-57.5 .5h0m11.5 .5h0m8.5 0h0m4 .5h0m-15.5 .5h0m5.5 0h0m24 0h0m-21.5 .5h0m27.5 0h0m-15 .5h0m3 0h0m-32.5 1h0m4 0h0m31.5 1h0m-14 2h0m31 0h0m-37 .5h0m27 0h0m-35.5 .5h0m18 0h0m-13.5 1h0m16 0h0m-24 1h0m32.5 1h0m9.5 0h0m-6.5 1h0m-8 1.5h0m-28.5 2.5h0m12 0h0m5 0h0m-11 2.5h0m16 0h0m41 1h0m-15 2.5h0m-16 3h0m-5 2h0"/>
<path stroke="#FF00FF" stroke-width="1.6" stroke-linecap="square" d="M131.5 31h0m14.5 0h0m55 .5h0m-83.5 .5h0m36.5 0h0m1 0h0m4 0h0m15 0h0m1 0h0m2 0h0m22 0h0m11.5 0h0m3.5 0h0m-93.5 .5h0m14.5 0h0m3 0h0m4 0h0m5.5 0h0m17.5 0h0m19 0h0m1 0h0m5.5 0h0m16.5 0h0m-99 .5h0m5 0h0m5.5 0h0m2 0h0m12.5 0h0m1 0h0m5 0h0m2 0h0m3 0h0m1 0h0m7 0h0m-37 1h0m.5 0h0m5.5 0h0m1 0h0m1 0h0m.5 0h0m1.5 0h0m3 0h0m6.5 0h0m-21.5 .5h0m2.5 0h0m-1.5 .5h0m2 0h0m3.5 0h0m1.5 0h0m2.5 0h0m.5 0h0m3.5 0h0m-23.5 .5h0m7 0h0m2 0h0m10 0h0m7 0h0m-25 .5h0m1.5 0h0m.5 0h0m2.5 0h0m5 0h0m4.5 0h0m2 0h0m1.5 0h0m-20.5 .5h0m1 0h0m-4 .5h0m1 0h0m.5 0h0m2.5 0h0m.5 0h0m1 0h0m4 0h0m1.5 0h0m3.5 0h0m3.5 0h0m-10 .5h0m3.5 0h0m-14.5 .5h0m2 0h0m3 0h0m2 0h0m1 0h0m4 0h0m2 0h0m2.5 0h0m-15 .5h0m1 0h0m2 0h0m5 0h0m-20.5 .5h0m8 0h0m1 0h0m1.5 0h0m.5 0h0m2.5 0h0m0 0h0m1.5 0h0m9 0h0m-16 .5h0m3 0h0m4 0h0m5 0h0m-17 .5h0m1.5 0h0m2.5 0h0m2 0h0m1 0h0m3 0h0m3 0h0m-16 .5h0m6 0h0m4 0h0m-16 .5h0m2.5 0h0m2.5 0h0m3 0h0m1 0h0m1 0h0m2 0h0m1 0h0m7 0h0m-13 .5h0m1 0h0m7 0h0m-12 .5h0m1 0h0m1 0h0m1 0h0m3 0h0m1 0h0m1 0h0m2 0h0m1 0h0m1 0h0m-8 .5h0m-7 .5h0m2 0h0m1 0h0m1 0h0m.5 0h0m2 0h0m.5 0h0m1 0h0m1 0h0m1 0h0m1 0h0m1 0h0m2 0h0m-15 .5h0m1 0h0m1.5 .5h0m1.5 0h0m7.5 0h0m-9.5 .5h0m-1 .5h0m1 0h0m1.5 0h0m0 0h0m1.5 0h0m1.5 0h0m-.5 .5h0m-11 .5h0m3 0h0m2 0h0m.5 0h0m4 0h0m-8 1h0m5.5 0h0m1 0h0m-8.5 .5h0m-.5 .5h0m1.5 0h0m1.5 0h0m4 0h0m-22.5 .5h0m2.5 1h0m2 0h0m7.5 0h0m2.5 0h0m-10 .5h0m-1 1h0m1 0h0m4 0h0m10.5 0h0m-9.5 1h0m-8 1.5h0m-2 .5h0m2 0h0m.5 0h0m4.5 0h0m2 0h0m5.5 0h0m-13.5 .5h0m7 0h0m-7 .5h0m6 0h0m6.5 0h0m-6.5 1h0m3 0h0m-5 1h0m-5 1h0m3.5 0h0m2 0h0m4 0h0m3.5 0h0m-9.5 1h0m-1 .5h0m8 0h0m-10.5 .5h0m1 1h0m-2 2h0m4 0h0m-7 3h0"/>
<path stroke="#0000FF" stroke-width="1.6" stroke-linecap="square" d="M164 29.5h0m-8 .5h0m2.5 0h0m16.5 0h0m1.5 0h0m15.5 0h0m1.5 0h0m9.5 0h0m5 0h0m-69.5 .5h0m1 0h0m2.5 0h0m3 0h0m5.5 0h0m44.5 0h0m-61 .5h0m3.5 0h0m5.5 0h0m4 0h0m.5 0h0m1.5 0h0m7.5 0h0m5.5 0h0m3 0h0m2 0h0m8 0h0m6 0h0m-57 .5h0m7 0h0m1 0h0m1 0h0m37 0h0m8.5 0h0m-59 .5h0m1.5 0h0m2 0h0m2 0h0m1 0h0m2.5 0h0m1.5 0h0m1.5 0h0m3.5 0h0m5.5 0h0m32 0h0m-56.5 .5h0m13.5 0h0m8.5 0h0m1.5 0h0m-30 .5h0m1.5 0h0m1 0h0m2 0h0m1 0h0m4 0h0m2 0h0m1 0h0m2 0h0m1 0h0m-20 .5h0m3 0h0m6 0h0m3 0h0m-10.5 .5h0m1 0h0m2.5 0h0m3.5 0h0m3.5 0h0m2 0h0m6.5 0h0m-26.5 .5h0m3.5 0h0m8.5 0h0m7 0h0m-20 .5h0m2 0h0m1.5 0h0m1.5 0h0m2 0h0m1.5 0h0m1 0h0m.5 0h0m11 0h0m-17 .5h0m2 0h0m4 0h0m4 0h0m-18 .5h0m1.5 0h0m.5 0h0m5.5 0h0m.5 0h0m7 0h0m1.5 0h0m-15.5 .5h0m1.5 0h0m1.5 0h0m2 0h0m20 0h0m-29 .5h0m1 0h0m2 0h0m3 0h0m16 0h0m-23 .5h0m2.5 0h0m-5.5 .5h0m1 0h0m.5 0h0m2 0h0m.5 0h0m-1.5 .5h0m16.5 0h0m-22.5 .5h0m4 0h0m.5 0h0m1.5 0h0m17.5 0h0m-24 .5h0m1 0h0m18 0h0m-21.5 .5h0m2 0h0m3 0h0m.5 0h0m3 0h0m-7 .5h0m-2 .5h0m-3 1h0m2 0h0m1.5 0h0m-2.5 .5h0m-3 .5h0m2 0h0m-2 1h0m10.5 0h0m1 0h0m3.5 0h0m-17 .5h0m-1 .5h0m3 0h0m2 0h0m1 0h0m-6 1h0m5 0h0m-6 1h0m0 1h0m-4 1h0m7.5 0h0m-9 .5h0m3.5 0h0m0 0h0m-6 .5h0m5 0h0m2 0h0m6 0h0m-20.5 1h0m7 0h0m4.5 0h0m3.5 0h0m2.5 0h0m1 0h0m-16.5 .5h0m-1.5 .5h0m7 0h0m4 0h0m-13 .5h0m7 0h0m2.5 0h0m2.5 0h0m-7 .5h0m11.5 0h0m-13.5 .5h0m10.5 0h0m1.5 0h0m-9 .5h0m2.5 0h0m-7.5 1h0m5.5 0h0m4.5 0h0m3 0h0m-9 .5h0m1 0h0m7 0h0m-12.5 .5h0m2.5 0h0m4.5 0h0m3.5 0h0m-8 .5h0m3 0h0m-2 .5h0m2 0h0m-5 1h0m2 0h0m1 0h0m3.5 0h0m1 0h0m-5 1h0m-1.5 .5h0m4 .5h0m1.5 0h0m1 0h0m-7.5 .5h0m-1 .5h0m4 0h0m2.5 0h0m4.5 0h0m-13 .5h0m-.5 .5h0m1 0h0m1.5 0h0m2.5 0h0m-3.5 .5h0m8 0h0m-5 1h0m-3 1.5h0m0 2h0"/>
<path stroke="#00FFFF" stroke-width="1.6" stroke-linecap="square" d="M153 29.5h0m2 0h0m6.5 0h0m3.5 0h0m5 0h0m2 0h0m8 0h0m5 0h0m4 0h0m7 0h0m16 0h0m-61 .5h0m6 0h0m1 0h0m3.5 0h0m1.5 0h0m3 0h0m2 0h0m1 0h0m4 0h0m4 0h0m2 0h0m3 0h0m1.5 0h0m2.5 0h0m.5 0h0m1.5 0h0m1.5 0h0m3.5 0h0m8 0h0m14 0h0m-63 .5h0m4 0h0m3.5 0h0m14 0h0m8 0h0m13.5 0h0m3 0h0m-63 .5h0m9 0h0m7.5 0h0m1.5 0h0m1 0h0m1 0h0m4 0h0m2 0h0m1.5 0h0m10 0h0m3.5 0h0m1 0h0m3 0h0m4.5 0h0m.5 0h0m1 0h0m1 0h0m6.5 0h0m2.5 0h0m-74 .5h0m15 0h0m21 0h0m12.5 0h0m2.5 0h0m6 0h0m3 0h0m7.5 0h0m1.5 0h0m-64 .5h0m7 0h0m2 0h0m1 0h0m4 0h0m1 0h0m-37.5 2h0m4.5 .5h0m-16 3h0m-6 2.5h0m-13 4h0m-3 .5h0m5 0h0m-3 .5h0m-2.5 1h0m4.5 0h0m-5 .5h0m3 .5h0m-17 .5h0m13.5 0h0m4.5 0h0m-19 .5h0m11.5 0h0m1 0h0m8.5 0h0m-11 .5h0m1.5 0h0m-8.5 .5h0m5 0h0m-14.5 .5h0m1.5 0h0m7 0h0m3 0h0m4 0h0m.5 0h0m-11.5 .5h0m1.5 0h0m2 0h0m.5 0h0m3 0h0m6 0h0m5.5 0h0m2.5 0h0m-7 .5h0m-8 .5h0m5.5 0h0m3.5 0h0m1 0h0m3 0h0m-22 .5h0m2 0h0m9.5 0h0m.5 0h0m6 .5h0m2 0h0m1 0h0m-17 .5h0m11 0h0m-8.5 .5h0m3.5 0h0m2 0h0m2 0h0m5 0h0m-5 .5h0m4 0h0m-14.5 .5h0m14 0h0m3.5 0h0m-4.5 .5h0m-4.5 .5h0m-11 .5h0m2 0h0m8.5 0h0m6.5 0h0m-12 .5h0m2 .5h0m7 0h0m-11.5 .5h0m2.5 0h0m3 0h0m9 0h0m-17 .5h0m1 .5h0m13 0h0m-14 .5h0m2.5 .5h0m1.5 0h0m9 .5h0m3.5 0h0m-16 .5h0m7.5 0h0m5 0h0m-3 .5h0m-10.5 .5h0m2.5 0h0m3 0h0m3.5 0h0m-4.5 1.5h0m5 0h0m-2 .5h0m-7 .5h0m2 .5h0m2 .5h0"/>
<path stroke="#00FF00" stroke-width="1.6" stroke-linecap="square" d="M152 30h0m14.5 0h0m7.5 0h0m4 0h0m5 0h0m8 0h0m-23 .5h0m-7.5 .5h0m3.5 0h0m5 0h0m21 0h0m4.5 0h0m-119 9h0m2 0h0m-3.5 .5h0m1 1.5h0m-22.5 1h0m19.5 0h0m-20.5 .5h0m21.5 0h0m-26.5 .5h0m23.5 0h0m-22 .5h0m7 0h0m14 0h0m-22 .5h0m3 0h0m2 0h0m13.5 0h0m8.5 0h0m-26 .5h0m1.5 0h0m4.5 0h0m-4 .5h0m1 0h0m1 0h0m4.5 0h0m3.5 0h0m6 0h0m-19.5 .5h0m.5 0h0m3 0h0m2 0h0m16.5 0h0m-20 .5h0m.5 0h0m4.5 0h0m2.5 0h0m2 0h0m9 0h0m-18 .5h0m4.5 0h0m10.5 0h0m-16 .5h0m3 0h0m2 0h0m6 0h0m2 0h0m1 0h0m2 0h0m-14 .5h0m2.5 0h0m-4 .5h0m.5 0h0m2 0h0m1.5 0h0m2.5 0h0m-2.5 .5h0m-3 .5h0m2 0h0m2.5 0h0m5 0h0m-10.5 .5h0m0 .5h0m2.5 0h0m3 0h0m1 0h0m2.5 0h0m13.5 0h0m-18.5 .5h0m-3.5 .5h0m3 0h0m3 0h0m14 0h0m-19 .5h0m0 0h0m3 0h0m-3.5 .5h0m1 0h0m2.5 0h0m-4 1h0m.5 0h0m5.5 0h0m-4 .5h0m1 0h0m2 0h0m-2 .5h0m1.5 0h0m12.5 0h0m-16.5 .5h0m.5 0h0m19.5 0h0m-19.5 .5h0m1 0h0m4 0h0m-5 1h0m2 0h0m2 0h0m9 0h0m1.5 .5h0m-15 .5h0m4.5 0h0m-3 .5h0m1 .5h0m14 0h0m-13.5 1h0m1.5 0h0m1 .5h0m-1 2.5h0m-1 .5h0"/></g>
<line x1="35.5" y1="28.1" x2="230.5" y2="28.1" stroke="#000" stroke-width="1.7"/>
<rect x="35.5" y="17.0" width="194.0" height="259.0" fill="none" stroke="#000" stroke-width="1"/>
<line x1="31.0" y1="28" x2="35.5" y2="28" stroke="#000" stroke-width="1"/>
<text transform="translate(26,28) rotate(-90)" text-anchor="middle" class="tk" font-family='"Liberation Sans", sans-serif' font-size="13">0</text>
<line x1="31.0" y1="62.1" x2="35.5" y2="62.1" stroke="#000" stroke-width="1"/>
<text transform="translate(26,62.1) rotate(-90)" text-anchor="middle" class="tk" font-family='"Liberation Sans", sans-serif' font-size="13">−2</text>
<line x1="31.0" y1="96.3" x2="35.5" y2="96.3" stroke="#000" stroke-width="1"/>
<text transform="translate(26,96.3) rotate(-90)" text-anchor="middle" class="tk" font-family='"Liberation Sans", sans-serif' font-size="13">−4</text>
<line x1="31.0" y1="130.4" x2="35.5" y2="130.4" stroke="#000" stroke-width="1"/>
<text transform="translate(26,130.4) rotate(-90)" text-anchor="middle" class="tk" font-family='"Liberation Sans", sans-serif' font-size="13">−6</text>
<line x1="31.0" y1="164.5" x2="35.5" y2="164.5" stroke="#000" stroke-width="1"/>
<text transform="translate(26,164.5) rotate(-90)" text-anchor="middle" class="tk" font-family='"Liberation Sans", sans-serif' font-size="13">−8</text>
<line x1="31.0" y1="198.6" x2="35.5" y2="198.6" stroke="#000" stroke-width="1"/>
<text transform="translate(26,198.6) rotate(-90)" text-anchor="middle" class="tk" font-family='"Liberation Sans", sans-serif' font-size="13">−10</text>
<line x1="31.0" y1="232.8" x2="35.5" y2="232.8" stroke="#000" stroke-width="1"/>
<text transform="translate(26,232.8) rotate(-90)" text-anchor="middle" class="tk" font-family='"Liberation Sans", sans-serif' font-size="13">−12</text>
<line x1="31.0" y1="266.9" x2="35.5" y2="266.9" stroke="#000" stroke-width="1"/>
<text transform="translate(26,266.9) rotate(-90)" text-anchor="middle" class="tk" font-family='"Liberation Sans", sans-serif' font-size="13">−14</text>
<line x1="68.4" y1="276" x2="68.4" y2="280.5" stroke="#000" stroke-width="1"/>
<text x="68.4" y="290.8" text-anchor="middle" class="tk" font-family='"Liberation Sans", sans-serif' font-size="13">−5</text>
<line x1="112.4" y1="276" x2="112.4" y2="280.5" stroke="#000" stroke-width="1"/>
<text x="112.4" y="290.8" text-anchor="middle" class="tk" font-family='"Liberation Sans", sans-serif' font-size="13">0</text>
<line x1="156.4" y1="276" x2="156.4" y2="280.5" stroke="#000" stroke-width="1"/>
<text x="156.4" y="290.8" text-anchor="middle" class="tk" font-family='"Liberation Sans", sans-serif' font-size="13">5</text>
<line x1="200.4" y1="276" x2="200.4" y2="280.5" stroke="#000" stroke-width="1"/>
<text x="200.4" y="290.8" text-anchor="middle" class="tk" font-family='"Liberation Sans", sans-serif' font-size="13">10</text>
<text x="132.4" y="9.2" text-anchor="middle" font-family='"Liberation Sans", sans-serif' font-weight="bold" font-size="12.85">AvsC, counts</text>
<text x="132.4" y="307.3" text-anchor="middle" font-family='"Liberation Sans", sans-serif' font-size="12.75">average expression [log2]</text>
<text transform="translate(9.2,146.5) rotate(-90)" text-anchor="middle" font-family='"Liberation Sans", sans-serif' font-size="12.8">fold change [log2]</text>
<rect x="44.5" y="175.8" width="7" height="6.6" fill="#BEBEBE" stroke="#000" stroke-width="0.9"/>
<text x="61.1" y="182.5" font-family='"Liberation Sans", sans-serif' font-size="9.55">none</text>
<rect x="44.5" y="187.9" width="7" height="6.6" fill="#00FF00" stroke="#000" stroke-width="0.9"/>
<text x="61.1" y="194.6" font-family='"Liberation Sans", sans-serif' font-size="9.55">limma</text>
<rect x="44.5" y="200.1" width="7" height="6.6" fill="#0000FF" stroke="#000" stroke-width="0.9"/>
<text x="61.1" y="206.8" font-family='"Liberation Sans", sans-serif' font-size="9.55">edgeR</text>
<rect x="44.5" y="212.3" width="7" height="6.6" fill="#FF0000" stroke="#000" stroke-width="0.9"/>
<text x="61.1" y="219" font-family='"Liberation Sans", sans-serif' font-size="9.55">DESeq2</text>
<rect x="44.5" y="224.5" width="7" height="6.6" fill="#00FFFF" stroke="#000" stroke-width="0.9"/>
<text x="61.1" y="231.2" font-family='"Liberation Sans", sans-serif' font-size="9.55">limma &amp; edgeR</text>
<rect x="44.5" y="236.7" width="7" height="6.6" fill="#FF00FF" stroke="#000" stroke-width="0.9"/>
<text x="61.1" y="243.4" font-family='"Liberation Sans", sans-serif' font-size="9.55">edgeR &amp; DESeq2</text>
<rect x="44.5" y="248.9" width="7" height="6.6" fill="#A52A2A" stroke="#000" stroke-width="0.9"/>
<text x="61.1" y="255.6" font-family='"Liberation Sans", sans-serif' font-size="9.55">DESeq2 &amp; limma</text>
<rect x="44.5" y="261.1" width="7" height="6.6" fill="#FFD700" stroke="#000" stroke-width="0.9"/>
<text x="61.1" y="267.8" font-family='"Liberation Sans", sans-serif' font-size="9.55">limma &amp; edgeR &amp; DESeq2</text>
<clipPath id="c1"><rect x="278.5" y="17" width="194" height="259"/></clipPath>
<g clip-path="url(#c1)"><linearGradient id="hR" gradientUnits="userSpaceOnUse" x1="285.3" x2="412" y1="0" y2="0"><stop offset="0" stop-color="#5e5e5e"/><stop offset="0.025" stop-color="#7c7c7c"/><stop offset="0.06" stop-color="#8e8e8e"/><stop offset="0.4" stop-color="#989898"/><stop offset="0.7" stop-color="#a4a4a4"/><stop offset="1" stop-color="#dcdcdc"/></linearGradient>
<polygon fill="url(#hR)"  points="285.3,28.2 412,28.2 412,29.5 390,29.8 370,30.3 360,31.4 350,33 340,34.6 330,36.5 325,38.6 320,42.4 315,45.3 310,48.7 305,52 300,55.5 296,54 290.6,52.5"/>
<path stroke="#a4a4a4" stroke-width="1.2" stroke-linecap="square" d="M320 29h0m-6 .5h0m3 0h0m5.5 0h0m18 0h0m4.5 0h0m3 0h0m-60 .5h0m38.5 0h0m6 0h0m13.5 0h0m-11 .5h0m11 0h0m11.5 .5h0m0 0h0m-47 .5h0m14 0h0m-28.5 .5h0m33 0h0m1.5 0h0m2 .5h0m2.5 0h0m9 0h0m2.5 0h0m-56.5 .5h0m24 0h0m17 0h0m-37 .5h0m28.5 0h0m8.5 0h0m-34 .5h0m5.5 0h0m6 .5h0m29 0h0m-24.5 1h0m15 0h0m-39 .5h0m9 .5h0m23 0h0m5 .5h0m-37.5 .5h0m8 0h0m2 .5h0m13 0h0m-6 .5h0m-11.5 .5h0m2.5 0h0m6.5 0h0m6 0h0m-2.5 .5h0m-14 1h0m3 0h0m16.5 0h0m9.5 0h0m-6 .5h0m-11 .5h0m7.5 0h0m-19.5 .5h0m1.5 1.5h0m12.5 0h0m-4 .5h0m-9 .5h0m9 0h0m3 0h0m-14.5 .5h0m4 0h0m.5 0h0m5 0h0m-7 1h0m-3 .5h0m3.5 0h0m2.5 0h0m-2 2h0m12.5 0h0m-12.5 .5h0m10.5 0h0m-5.5 2h0m4.5 1h0"/>
<path stroke="#8a8a8a" stroke-width="1.2" stroke-linecap="square" d="M319.5 29h0m9.5 0h0m21.5 0h0m4 0h0m35 0h0m3 0h0m-65 .5h0m9.5 0h0m5.5 0h0m25 0h0m-34 .5h0m2.5 0h0m8 .5h0m15 0h0m-58 1.5h0m-5.5 .5h0m4 .5h0m43.5 0h0m-30.5 .5h0m1.5 .5h0m9.5 0h0m-13 .5h0m-11.5 .5h0m18 .5h0m-26.5 .5h0m18.5 0h0m5.5 0h0m-24.5 .5h0m18 0h0m9.5 0h0m-4 1h0m-16.5 .5h0m2.5 0h0m17 0h0m-25 .5h0m8 0h0m5 0h0m-14 .5h0m13.5 0h0m3 0h0m14.5 0h0m-23 .5h0m7 .5h0m-6.5 1h0m8.5 0h0m-16 1.5h0m11.5 .5h0m4.5 .5h0m-5.5 .5h0m2.5 0h0m5.5 0h0m5.5 0h0m-12 .5h0m-5.5 1h0m.5 0h0m3.5 0h0m-6 .5h0m-.5 2h0m8.5 0h0m1.5 0h0m-4 2h0m2.5 2h0m-6.5 1.5h0"/>
<linearGradient id="vR" x1="0" x2="0" y1="0" y2="1"><stop offset="0" stop-color="#000" stop-opacity="0.3"/><stop offset="1" stop-color="#000" stop-opacity="0"/></linearGradient>
<rect x="285.8" y="28.5" width="96.7" height="3" fill="url(#vR)"/>
<linearGradient id="aR" x1="0" x2="0" y1="0" y2="1"><stop offset="0" stop-color="#505050" stop-opacity="0.05"/><stop offset="0.35" stop-color="#505050" stop-opacity="0.45"/><stop offset="0.75" stop-color="#505050" stop-opacity="1"/></linearGradient>
<linearGradient id="faR" gradientUnits="userSpaceOnUse" x1="285.3" x2="448" y1="0" y2="0"><stop offset="0" stop-color="#fff"/><stop offset="0.75" stop-color="#fff"/><stop offset="1" stop-color="#000"/></linearGradient>
<mask id="mR"><rect x="285.3" y="23" width="162.7" height="6" fill="url(#faR)"/></mask>
<rect mask="url(#mR)" x="285.3" y="23.6" width="162.7" height="4.2" fill="url(#aR)"/>
<path stroke="#00FF00" stroke-width="1.6" stroke-linecap="square" d="M410 29.5h0m-10 .5h0m2 0h0m1 0h0m2 0h0m3.5 0h0m-20.5 .5h0m10 0h0m-31 .5h0m2 0h0m2 0h0m2 0h0m1.5 0h0m3 0h0m.5 0h0m.5 0h0m2 0h0m2.5 0h0m1.5 0h0m1.5 0h0m5.5 0h0m1.5 0h0m3 0h0m-48 .5h0m13 0h0m1.5 0h0m26.5 0h0m6 0h0m-49 .5h0m6 0h0m4 0h0m8.5 0h0m1.5 0h0m-12 .5h0m5 0h0m-21.5 .5h0m6 0h0m6.5 0h0m3 0h0m4.5 0h0m1 0h0m.5 0h0m1 0h0m-14 .5h0m3 0h0m3 0h0m3 0h0m-19 .5h0m3 0h0m2 0h0m6 0h0m4 0h0m4.5 0h0m-25.5 1h0m1.5 0h0m1.5 0h0m7 0h0m3.5 0h0m2 0h0m1.5 0h0m1 0h0m-5.5 .5h0m.5 0h0m6.5 0h0m-22.5 .5h0m1 0h0m2.5 0h0m4 0h0m1.5 0h0m1 0h0m1.5 0h0m2.5 0h0m2 0h0m-11 .5h0m8 0h0m-6.5 .5h0m1 0h0m1.5 0h0m1 0h0m-13 .5h0m14 0h0m-9 .5h0m1 0h0m1 0h0m1 0h0m-6 .5h0m2 0h0m6 0h0m-9 .5h0m1.5 0h0m1.5 0h0m1 0h0m-8 .5h0m4 .5h0m1 0h0m2.5 0h0m-4 .5h0m-6.5 .5h0m2 0h0m4.5 0h0m-9 .5h0m7 0h0m-1.5 .5h0m2 0h0m1 0h0m-4.5 1h0m1.5 0h0m.5 0h0m1.5 0h0m-10 1h0m6.5 0h0m0 0h0m1 0h0m-3 .5h0m-5.5 .5h0m3 0h0m2 0h0m-1 .5h0m2 0h0m2.5 0h0m-10.5 .5h0m9.5 0h0m-7.5 .5h0m2 0h0m2.5 0h0m-4 .5h0m2.5 0h0m1 0h0m-7 1h0m2 0h0m2 0h0m1 0h0m2 0h0m-6 1h0m2 0h0m2 0h0m-5 .5h0m-2 .5h0m4 0h0m-6 .5h0m4 0h0m4 0h0m-7.5 .5h0m2.5 0h0m2 0h0m1 0h0m-8.5 1h0m4 0h0m.5 0h0m3.5 0h0m-7 .5h0m1 0h0m4 0h0m.5 0h0m-3 .5h0m1 0h0m-14 .5h0m1 .5h0m8.5 0h0m1.5 0h0m1 0h0m2 0h0m-15 .5h0m6 0h0m5 0h0m1 0h0m-12 .5h0m1.5 0h0m1.5 0h0m1.5 0h0m6 0h0m2.5 0h0m1 0h0m-12.5 .5h0m6 0h0m1 0h0m3 0h0m-10.5 .5h0m1 0h0m1 0h0m1 0h0m1 0h0m1 0h0m1 0h0m3 0h0m.5 0h0m-10 .5h0m7.5 0h0m1 0h0m2 0h0m-9 .5h0m1 0h0m1 0h0m1 0h0m2 0h0m1.5 0h0m1.5 0h0m2 0h0m-6 .5h0m3 0h0m-8.5 .5h0m1.5 0h0m2 0h0m.5 0h0m1.5 0h0m.5 0h0m-4.5 .5h0m1.5 0h0m-3 .5h0m3 0h0m0 0h0m2 0h0m1.5 0h0m1 0h0m-2 .5h0m1 0h0m2.5 0h0m-8 .5h0m1.5 0h0m1 0h0m1 0h0m.5 0h0m-4.5 .5h0m-.5 .5h0m2 0h0m.5 0h0m1 0h0m2 0h0m1 0h0m-2 .5h0m-2 .5h0m1.5 0h0m.5 0h0m.5 0h0m-3.5 .5h0m2.5 0h0m2 0h0m-3.5 .5h0m2.5 0h0m1.5 0h0m-5 .5h0m0 .5h0m2 0h0m1.5 0h0m.5 0h0m1.5 0h0m-6 .5h0m1.5 0h0m2 0h0m-2 .5h0m1 0h0m1.5 0h0m1.5 0h0"/>
<path stroke="#FF0000" stroke-width="1.6" stroke-linecap="square" d="M407 30.5h0m3 0h0m-12 .5h0m1 0h0m1 0h0m.5 0h0m1.5 0h0m2.5 0h0m.5 0h0m3 0h0m3 0h0m1 0h0m1 0h0m-44 .5h0m1.5 0h0m13.5 0h0m13 0h0m2.5 0h0m6.5 0h0m3 0h0m1 0h0m-39.5 .5h0m1.5 0h0m3 0h0m5 0h0m2.5 0h0m.5 0h0m3 0h0m1 0h0m1.5 0h0m0 0h0m2.5 0h0m4 0h0m1.5 0h0m2.5 0h0m2 0h0m2 0h0m2 0h0m2 0h0m1 0h0m-44 .5h0m4 0h0m4 0h0m5 0h0m1 0h0m3.5 0h0m.5 0h0m3 0h0m2 0h0m7.5 0h0m9.5 0h0m-42 .5h0m4 0h0m1 0h0m2 0h0m4.5 0h0m.5 0h0m1 0h0m1 0h0m.5 0h0m1.5 0h0m1 0h0m2 0h0m2 0h0m1.5 0h0m3.5 0h0m1 0h0m1 0h0m.5 0h0m1.5 0h0m1.5 0h0m1.5 0h0m1.5 0h0m1.5 0h0m2 0h0m2 0h0m.5 0h0m-41.5 .5h0m2 0h0m2 0h0m2.5 0h0m1 0h0m4 0h0m.5 0h0m5 0h0m1 0h0m.5 0h0m6.5 0h0m2 0h0m2 0h0m3 0h0m6 0h0m2 0h0m4 0h0m-48.5 .5h0m.5 0h0m.5 0h0m1.5 0h0m2.5 0h0m2.5 0h0m2 0h0m1 0h0m4 0h0m3 0h0m1.5 0h0m4.5 0h0m1 0h0m1 0h0m1 0h0m2.5 0h0m.5 0h0m1 0h0m2 0h0m2 0h0m-39.5 .5h0m2 0h0m17 0h0m3 0h0m4.5 0h0m-28 .5h0m3 0h0m4.5 0h0m1.5 0h0m1 0h0m.5 0h0m2.5 0h0m1 0h0m1 0h0m1.5 0h0m1.5 0h0m1.5 0h0m2.5 0h0m1 0h0m3.5 0h0m2.5 0h0m1 0h0m-28 .5h0m1.5 0h0m1.5 0h0m7 0h0m14 0h0m-31 .5h0m2 0h0m1 0h0m3 0h0m1 0h0m2.5 0h0m1.5 0h0m1 0h0m1 0h0m1.5 0h0m.5 0h0m1 0h0m1 0h0m2 0h0m1.5 0h0m.5 0h0m1 0h0m-24 .5h0m3 0h0m.5 0h0m3.5 0h0m0 0h0m13 0h0m-22 .5h0m3 0h0m1 0h0m4 0h0m4 0h0m1 0h0m1 0h0m1 0h0m1 0h0m1 0h0m1 0h0m-21 .5h0m4 0h0m4 0h0m2 0h0m-11.5 .5h0m.5 0h0m2 0h0m.5 0h0m2.5 0h0m2 0h0m2.5 0h0m2.5 0h0m.5 0h0m1.5 0h0m2 0h0m-14 .5h0m2 0h0m2 0h0m2 0h0m2 0h0m5 0h0m-18 .5h0m1 0h0m1.5 0h0m1.5 0h0m2.5 0h0m0 0h0m1.5 0h0m4.5 0h0m-10.5 .5h0m8.5 0h0"/>
<path stroke="#FF00FF" stroke-width="1.6" stroke-linecap="square" d="M403 31h0m3 0h0m-16.5 .5h0m3 0h0m-19.5 .5h0m3 0h0m-14.5 1h0m8.5 .5h0m4.5 .5h0m-4.5 .5h0m-14.5 .5h0m10.5 0h0m4.5 0h0m-2 .5h0m6.5 0h0m-4.5 .5h0m1.5 0h0m2.5 0h0m2 0h0m.5 0h0m-11 .5h0m2.5 0h0m.5 0h0m4.5 0h0m-21.5 .5h0m9 0h0m1 0h0m1 0h0m1 0h0m.5 0h0m2.5 0h0m3 0h0m1 0h0m-10 .5h0m7 0h0m-13.5 .5h0m1.5 0h0m1 0h0m1.5 0h0m1.5 0h0m3.5 0h0m.5 0h0m2 0h0m1 0h0m4 0h0m1 0h0m-15 .5h0m1 0h0m1 0h0m2.5 0h0m3.5 0h0m.5 0h0m2 0h0m7.5 0h0m-31 .5h0m3.5 0h0m1.5 0h0m1 0h0m1 0h0m1 0h0m.5 0h0m1.5 0h0m1 0h0m.5 0h0m3.5 0h0m2 0h0m3 0h0m3 0h0m1 0h0m2 0h0m-33 .5h0m3.5 0h0m4.5 0h0m10 0h0m3 0h0m2.5 0h0m1.5 0h0m1 0h0m3 0h0m-33.5 .5h0m1 0h0m.5 0h0m1 0h0m1 0h0m3 0h0m1 0h0m2 0h0m.5 0h0m2 0h0m3 0h0m.5 0h0m2 0h0m1 0h0m1.5 0h0m.5 0h0m1 0h0m1.5 0h0m1.5 0h0m2.5 0h0m.5 0h0m1 0h0m1 0h0m1 0h0m1 0h0m1.5 0h0m3 0h0m-32.5 .5h0m2 0h0m7.5 0h0m.5 0h0m8 0h0m3 0h0m7 0h0m-36 .5h0m.5 0h0m2.5 0h0m2 0h0m1 0h0m1 0h0m2.5 0h0m1.5 0h0m1.5 0h0m.5 0h0m.5 0h0m1.5 0h0m1 0h0m1.5 0h0m4 0h0m1 0h0m.5 0h0m1.5 0h0m3 0h0m2 0h0m1.5 0h0m1 0h0m1 0h0m4 0h0m2.5 0h0m-31 .5h0m5.5 0h0m5 0h0m1 0h0m3 0h0m11.5 0h0m-38 .5h0m5.5 0h0m1 0h0m2 0h0m1.5 0h0m0 0h0m2.5 0h0m1 0h0m1 0h0m1 0h0m3 0h0m2 0h0m.5 0h0m2 0h0m1.5 0h0m.5 0h0m2.5 0h0m1 0h0m1.5 0h0m2.5 0h0m1 0h0m3 0h0m1 0h0m2 0h0m-36 .5h0m4 0h0m5 0h0m6.5 0h0m3.5 0h0m7 0h0m2 0h0m.5 0h0m2.5 0h0m-33.5 .5h0m3 0h0m1 0h0m1.5 0h0m1 0h0m1 0h0m1 0h0m1 0h0m3 0h0m1.5 0h0m1.5 0h0m1 0h0m1 0h0m1 0h0m1 0h0m1 0h0m3 0h0m1 0h0m3.5 0h0m.5 0h0m1 0h0m2 0h0m1 0h0m4 0h0m2 0h0m2 0h0m-34 .5h0m.5 0h0m3.5 0h0m3 0h0m4 0h0m4 0h0m1 0h0m3 0h0m.5 0h0m0 0h0m4 0h0m3.5 0h0m-37 .5h0m2 0h0m1 0h0m2 0h0m1 0h0m.5 0h0m2 0h0m.5 0h0m3 0h0m1 0h0m1 0h0m1 0h0m1 0h0m1 0h0m2 0h0m1 0h0m2 0h0m.5 0h0m1 0h0m1.5 0h0m1 0h0m.5 0h0m1.5 0h0m2 0h0m2 0h0m1 0h0m1.5 0h0m2.5 0h0m1 0h0m2 0h0m-35 .5h0m7 0h0m6 0h0m0 0h0m3.5 0h0m9.5 0h0m12 0h0m-43 .5h0m2 0h0m.5 0h0m1.5 0h0m2 0h0m2 0h0m1.5 0h0m1.5 0h0m2.5 0h0m2 0h0m1.5 0h0m3 0h0m3 0h0m1 0h0m.5 0h0m1.5 0h0m1 0h0m2 0h0m1 0h0m1.5 0h0m1.5 0h0m1 0h0m1.5 0h0m.5 0h0m2 0h0m2 0h0m-33.5 .5h0m3 0h0m.5 0h0m2 0h0m1 0h0m3 0h0m3 0h0m0 0h0m3.5 0h0m5.5 0h0m3 0h0m-30.5 .5h0m.5 0h0m.5 0h0m1.5 0h0m2 0h0m2.5 0h0m1 0h0m5 0h0m3 0h0m4.5 0h0m1 0h0m2 0h0m3 0h0m1.5 0h0m2.5 0h0m.5 0h0m1.5 0h0m2 0h0m1 0h0m1 0h0m2 0h0m-30 .5h0m6 0h0m1 0h0m4 0h0m2.5 0h0m2.5 0h0m4 0h0m2 0h0m4.5 0h0m-39.5 .5h0m2.5 0h0m1.5 0h0m1 0h0m1.5 0h0m1 0h0m1.5 0h0m.5 0h0m2.5 0h0m2 0h0m1 0h0m.5 0h0m1.5 0h0m1 0h0m1 0h0m.5 0h0m2 0h0m1 0h0m.5 0h0m1 0h0m1 0h0m2 0h0m3 0h0m1 0h0m5 0h0m5.5 0h0m-34.5 .5h0m.5 0h0m3.5 0h0m1.5 0h0m8 0h0m8.5 0h0m1.5 0h0m1.5 0h0m0 0h0m2 0h0m3 0h0m-38.5 .5h0m4 0h0m1.5 0h0m2 0h0m1 0h0m2 0h0m2 0h0m4 0h0m1.5 0h0m.5 0h0m1 0h0m1 0h0m2 0h0m1 0h0m2 0h0m2 0h0m1 0h0m1 0h0m1 0h0m2 0h0m2 0h0m2 0h0m3 0h0m1 0h0m-34 .5h0m7.5 0h0m.5 0h0m1 0h0m8.5 0h0m.5 0h0m4 0h0m1 0h0m6 0h0m3 0h0m3 0h0m-43 .5h0m3 0h0m1 0h0m3 0h0m.5 0h0m1 0h0m1.5 0h0m.5 0h0m1.5 0h0m1 0h0m1 0h0m1 0h0m.5 0h0m1.5 0h0m1 0h0m1.5 0h0m2 0h0m.5 0h0m1 0h0m.5 0h0m1.5 0h0m2 0h0m1 0h0m5 0h0m1 0h0m2 0h0m1 0h0m4.5 0h0m1.5 0h0m-40 .5h0m1.5 0h0m1.5 0h0m6 0h0m6.5 0h0m1.5 0h0m1 0h0m8 0h0m3 0h0m2 0h0m4 0h0m1 0h0m.5 0h0m.5 0h0m-40 .5h0m1 0h0m1 0h0m2.5 0h0m.5 0h0m1 0h0m1 0h0m1 0h0m.5 0h0m1.5 0h0m1 0h0m1.5 0h0m1.5 0h0m1 0h0m1 0h0m1 0h0m1 0h0m2 0h0m3.5 0h0m1.5 0h0m1 0h0m1 0h0m1 0h0m3 0h0m1 0h0m1 0h0m2 0h0m1.5 0h0m2 0h0m-16.5 .5h0m.5 0h0m6 0h0m1.5 0h0m-32 .5h0m3 0h0m2 0h0m2 0h0m2.5 0h0m1 0h0m2 0h0m.5 0h0m2 0h0m1 0h0m1 0h0m1 0h0m3 0h0m.5 0h0m1.5 0h0m3 0h0m1 0h0m1 0h0m1 0h0m2.5 0h0m.5 0h0m.5 0h0m1.5 0h0m1 0h0m1 0h0m2 0h0m2.5 0h0m.5 0h0m4 0h0m-43.5 .5h0m4.5 0h0m2 0h0m4 0h0m1.5 0h0m6.5 0h0m2 0h0m5 0h0m3 0h0m3 0h0m-35 .5h0m1.5 0h0m1.5 0h0m2 0h0m3 0h0m2 0h0m1 0h0m1 0h0m1 0h0m2 0h0m2 0h0m1.5 0h0m.5 0h0m1 0h0m1 0h0m1 0h0m1 0h0m1.5 0h0m2 0h0m1.5 0h0m2 0h0m1 0h0m1 0h0m1 0h0m1.5 0h0m6 0h0m-34 .5h0m.5 0h0m1.5 0h0m17.5 0h0m11 0h0m.5 0h0m1.5 0h0m-40 .5h0m3 0h0m1 0h0m1 0h0m1 0h0m1 0h0m1 0h0m1.5 0h0m.5 0h0m1 0h0m1 0h0m1 0h0m2 0h0m2 0h0m1 0h0m2 0h0m2 0h0m1 0h0m2 0h0m1 0h0m3 0h0m1 0h0m2 0h0m1 0h0m1 0h0m.5 0h0m1 0h0m1 0h0m2.5 0h0m2.5 0h0m-39.5 .5h0m13.5 0h0m3 0h0m.5 0h0m2.5 0h0m1.5 0h0m1.5 0h0m6 0h0m-32 .5h0m5 0h0m4 0h0m1 0h0m0 0h0m1.5 0h0m1 0h0m1 0h0m2 0h0m.5 0h0m1.5 0h0m.5 0h0m2 0h0m1 0h0m1.5 0h0m3 0h0m2.5 0h0m.5 0h0m2 0h0m2 0h0m1 0h0m2 0h0m2.5 0h0m1.5 0h0m4.5 0h0m1.5 0h0m-47 .5h0m7 0h0m1 0h0m1 0h0m4 0h0m3 0h0m1 0h0m2 0h0m6.5 0h0m2.5 0h0m0 0h0m5 0h0m3.5 0h0m1 0h0m0 0h0m4.5 0h0m-39 .5h0m1 0h0m1 0h0m1.5 0h0m.5 0h0m1.5 0h0m1.5 0h0m1 0h0m.5 0h0m2 0h0m1 0h0m1.5 0h0m4 0h0m1 0h0m2 0h0m2 0h0m1 0h0m1 0h0m2.5 0h0m1.5 0h0m1 0h0m1 0h0m1 0h0m1 0h0m1 0h0m1 0h0m2.5 0h0m1 0h0m0 0h0m-26.5 .5h0m3 0h0m1 0h0m6 0h0m3 0h0m2 0h0m1 0h0m7 0h0m-35 .5h0m2 0h0m1 0h0m2 0h0m1 0h0m1.5 0h0m1 0h0m1 0h0m4 0h0m2.5 0h0m1 0h0m1 0h0m1 0h0m.5 0h0m1.5 0h0m1 0h0m1 0h0m6 0h0m1 0h0m1 0h0m1 0h0m1 0h0m-33.5 .5h0m1 0h0m8.5 0h0m2 0h0m6 0h0m9 0h0m2 0h0m-28 .5h0m2.5 0h0m1.5 0h0m2 0h0m1 0h0m.5 0h0m1.5 0h0m2.5 0h0m1 0h0m0 0h0m3 0h0m.5 0h0m4 0h0m2 0h0m1 0h0m1 0h0m1 0h0m2.5 0h0m0 0h0m2.5 0h0m1 0h0m.5 0h0m3 0h0m.5 0h0m.5 0h0m2 0h0m-27.5 .5h0m3 0h0m6 0h0m7 0h0m.5 0h0m2.5 0h0m.5 0h0m-32 .5h0m7 0h0m2.5 0h0m.5 0h0m4 0h0m1 0h0m1.5 0h0m1 0h0m1 0h0m2 0h0m1 0h0m1 0h0m1 0h0m2 0h0m1 0h0m1 0h0m2 0h0m2.5 0h0m1.5 0h0m1 0h0m1 0h0m2 0h0m1 0h0m7 0h0m-49 .5h0m6 0h0m4 0h0m2 0h0m1 0h0m2 0h0m5 0h0m6 0h0m6.5 0h0m2 0h0m1.5 0h0m4 0h0m4 0h0m-43 .5h0m1.5 0h0m3 0h0m8.5 0h0m1 0h0m1 0h0m3 0h0m2.5 0h0m.5 0h0m1 0h0m1 0h0m3 0h0m1 0h0m1 0h0m1 0h0m1.5 0h0m2.5 0h0m.5 0h0m2 0h0m2.5 0h0m-32 .5h0m1 0h0m4 0h0m5 0h0m1 0h0m0 0h0m13 0h0m.5 0h0m-33.5 .5h0m8 0h0m2.5 0h0m1.5 0h0m2 0h0m1 0h0m2.5 0h0m2 0h0m2 0h0m1.5 0h0m1 0h0m1 0h0m2 0h0m2 0h0m1 0h0m2.5 0h0m1 0h0m1.5 0h0m.5 0h0m1.5 0h0m.5 0h0m1.5 0h0m-38 .5h0m8 0h0m1 0h0m3.5 0h0m2.5 0h0m1.5 0h0m3 0h0m3 0h0m2.5 0h0m2 0h0m3 0h0m6 0h0m5 0h0m-39 .5h0m6 0h0m1 0h0m1 0h0m2.5 0h0m1 0h0m1.5 0h0m2 0h0m1 0h0m2 0h0m1 0h0m2 0h0m1 0h0m2 0h0m1 0h0m1 0h0m.5 0h0m1 0h0m1 0h0m1.5 0h0m1 0h0m1 0h0m1 0h0m3 0h0m1 0h0m1 0h0m-35.5 .5h0m11.5 0h0m3 0h0m6 0h0m-27.5 .5h0m2.5 0h0m8 0h0m3 0h0m1 0h0m.5 0h0m1.5 0h0m1 0h0m1 0h0m4 0h0m2 0h0m1 0h0m2 0h0m1 0h0m1 0h0m2 0h0m1 0h0m2 0h0m1 0h0m1.5 0h0m2 0h0m2.5 0h0m-34 .5h0m5 0h0m8 0h0m0 0h0m1.5 0h0m4.5 0h0m4.5 0h0m2.5 0h0m1 0h0m2.5 0h0m2 0h0m.5 0h0m-38 .5h0m3 0h0m1.5 0h0m1.5 0h0m4 0h0m2 0h0m1 0h0m1 0h0m2 0h0m2 0h0m2 0h0m1 0h0m1.5 0h0m.5 0h0m1 0h0m2 0h0m.5 0h0m1.5 0h0m4 0h0m2.5 0h0m4.5 0h0m-32 .5h0m7 0h0m1 0h0m3.5 0h0m7.5 0h0m1.5 0h0m2 0h0m1.5 0h0m-21.5 .5h0m.5 0h0m1 0h0m1 0h0m4 0h0m2.5 0h0m1.5 0h0m1 0h0m2 0h0m1 0h0m4 0h0m1 0h0m1 0h0m1 0h0m1 0h0m1.5 0h0m.5 0h0m2 0h0m1 0h0m16.5 0h0m-51.5 .5h0m1.5 0h0m2.5 0h0m8 0h0m.5 0h0m2 0h0m4.5 0h0m4.5 0h0m.5 0h0m1 0h0m2.5 0h0m5.5 0h0m-28.5 .5h0m4 0h0m1.5 0h0m1 0h0m2 0h0m1 0h0m1 0h0m2 0h0m1 0h0m2 0h0m.5 0h0m1.5 0h0m1 0h0m3 0h0m1 0h0m2 0h0m4 0h0m1 0h0m-43 .5h0m14 0h0m1 0h0m3 0h0m3.5 0h0m3 0h0m10 0h0m-33.5 .5h0m10 0h0m1 0h0m1 0h0m6 0h0m2.5 0h0m2.5 0h0m2 0h0m2 0h0m2 0h0m1 0h0m2 0h0m3 0h0m1 0h0m1 0h0m1 0h0m4 0h0m-29 .5h0m3 0h0m3 0h0m2.5 0h0m4.5 0h0m1 0h0m3.5 0h0m0 0h0m8.5 0h0m3 0h0m-35.5 .5h0m5.5 0h0m3 0h0m1 0h0m2.5 0h0m.5 0h0m2 0h0m1 0h0m1 0h0m1 0h0m7 0h0m1.5 0h0m1 0h0m2.5 0h0m.5 0h0m2 0h0m.5 0h0m1 0h0m-19.5 .5h0m3 0h0m1.5 0h0m1.5 0h0m1 0h0m1.5 0h0m1 0h0m2.5 0h0m4 0h0m-32.5 .5h0m3.5 0h0m6 0h0m1.5 0h0m1 0h0m1 0h0m2 0h0m.5 0h0m1.5 0h0m1 0h0m2 0h0m1 0h0m1 0h0m2.5 0h0m.5 0h0m1.5 0h0m1.5 0h0m1 0h0m.5 0h0m1.5 0h0m2 0h0m3.5 0h0m6.5 0h0m-33 .5h0m4 0h0m1 0h0m5 0h0m3 0h0m6 0h0m-30.5 .5h0m9 0h0m4 0h0m4.5 0h0m1 0h0m1 0h0m1.5 0h0m1.5 0h0m3.5 0h0m0 0h0m2.5 0h0m1 0h0m3 0h0m1.5 0h0m1 0h0m1 0h0m1.5 0h0m-24 .5h0m1 0h0m3 0h0m7 0h0m6 0h0m7 0h0m-29.5 .5h0m3.5 0h0m1 0h0m1 0h0m1 0h0m1 0h0m3 0h0m3 0h0m1 0h0m.5 0h0m1.5 0h0m1 0h0m2 0h0m2.5 0h0m2 0h0m1.5 0h0m1 0h0m-33 .5h0m8.5 0h0m.5 0h0m6 0h0m2.5 0h0m2.5 0h0m4.5 0h0m.5 0h0m2 0h0m3 0h0m1 0h0m3 0h0m-31 .5h0m3 0h0m5.5 0h0m1.5 0h0m2 0h0m3 0h0m1 0h0m2.5 0h0m1 0h0m1 0h0m3 0h0m.5 0h0m1 0h0m2.5 0h0m3 0h0m0 0h0m1 0h0m4.5 0h0m-37 .5h0m11.5 0h0m3.5 0h0m1.5 0h0m0 0h0m2 0h0m2.5 0h0m6 0h0m4 0h0m-29.5 .5h0m7.5 0h0m1 0h0m2 0h0m1 0h0m1 0h0m1.5 0h0m2.5 0h0m1 0h0m1.5 0h0m1.5 0h0m.5 0h0m1 0h0m1.5 0h0m1.5 0h0m1 0h0m1.5 0h0m1 0h0m1.5 0h0m-33 .5h0m15.5 0h0m4 0h0m4 0h0m3 0h0m6 0h0m-34 .5h0m1.5 0h0m4.5 0h0m4 0h0m1 0h0m3.5 0h0m0 0h0m3.5 0h0m1 0h0m1 0h0m2 0h0m2 0h0m2 0h0m1 0h0m2 0h0m3 0h0m-30 .5h0m10 0h0m.5 0h0m4 0h0m2.5 0h0m2 0h0m2.5 0h0m22.5 0h0m-44 .5h0m2.5 0h0m6.5 0h0m2 0h0m.5 0h0m1.5 0h0m2 0h0m1 0h0m2.5 0h0m4.5 0h0m1.5 0h0m1 0h0m.5 0h0m1.5 0h0m-31 .5h0m13 0h0m7 0h0m3.5 0h0m1.5 0h0m.5 0h0m6.5 0h0m2.5 0h0m-33 .5h0m3.5 0h0m3.5 0h0m3 0h0m1 0h0m4 0h0m1 0h0m1 0h0m1 0h0m2 0h0m2 0h0m1 0h0m2 0h0m1 0h0m1 0h0m2 0h0m-26.5 .5h0m18.5 0h0m0 0h0m1 0h0m-23 .5h0m1 0h0m1 0h0m3 0h0m.5 0h0m5 0h0m1.5 0h0m2 0h0m2 0h0m1.5 0h0m0 0h0m2 0h0m.5 0h0m.5 0h0m3.5 0h0m1 0h0m.5 0h0m1.5 0h0m2 0h0m2 0h0m.5 0h0m1.5 0h0m-31.5 .5h0m7 0h0m6 0h0m5.5 0h0m3 0h0m.5 0h0m-23.5 .5h0m11 0h0m1 0h0m1 0h0m3 0h0m2 0h0m1 0h0m2 0h0m1 0h0m3 0h0m1 0h0m1.5 0h0m.5 0h0m1 0h0m-26 .5h0m9 0h0m3 0h0m15 0h0m-29.5 .5h0m2.5 0h0m1 0h0m.5 0h0m3.5 0h0m3 0h0m2 0h0m3 0h0m3 0h0m2 0h0m.5 0h0m2.5 0h0m1.5 0h0m2 0h0m.5 0h0m2 0h0m2 0h0m-31 .5h0m2 0h0m6 0h0m0 0h0m8 0h0m1 0h0m5.5 0h0m-22.5 .5h0m5 0h0m4.5 0h0m1.5 0h0m1 0h0m2 0h0m2 0h0m1 0h0m1 0h0m1 0h0m.5 0h0m1.5 0h0m1 0h0m3 0h0m1 0h0m1.5 0h0m-18 .5h0m2.5 0h0m.5 0h0m2.5 0h0m7 0h0m5 0h0m-26 .5h0m1.5 0h0m2 0h0m1.5 0h0m2 0h0m5 0h0m3 0h0m1 0h0m1 0h0m1 0h0m1 0h0m.5 0h0m7.5 0h0m2.5 0h0m-31 .5h0m14.5 0h0m1 0h0m4.5 0h0m8.5 0h0m-27.5 .5h0m1.5 0h0m2 0h0m1 0h0m1 0h0m3 0h0m3 0h0m10 0h0m1 0h0m1.5 0h0m0 0h0m1.5 0h0m4 0h0m-24.5 .5h0m1 0h0m5.5 0h0m4 0h0m11 0h0m-27 .5h0m2 0h0m2.5 0h0m2.5 0h0m1 0h0m1.5 0h0m1 0h0m0 0h0m2.5 0h0m1 0h0m2 0h0m1 0h0m1 0h0m2 0h0m1 0h0m3 0h0m2.5 0h0m-2 .5h0m-23.5 .5h0m2 0h0m2 0h0m1 0h0m1 0h0m1.5 0h0m1.5 0h0m3 0h0m1.5 0h0m.5 0h0m1.5 0h0m1.5 0h0m3 0h0m.5 0h0m-21.5 .5h0m1.5 0h0m10.5 0h0m1.5 0h0m8 0h0m1 0h0m-22.5 .5h0m1 0h0m4 0h0m1 0h0m3 0h0m1 0h0m1.5 0h0m4.5 0h0m2 0h0m2 0h0m2 0h0m1.5 0h0m.5 0h0m1 0h0m-22 .5h0m3.5 0h0m.5 0h0m3 0h0m4 0h0m3 0h0m-11.5 .5h0m.5 0h0m8 0h0m2 0h0m1.5 0h0m.5 0h0m2 0h0m1 0h0m1.5 0h0m.5 0h0m1 0h0m-23 .5h0m2 .5h0m2.5 0h0m1 0h0m0 0h0m1 0h0m1.5 0h0m4 0h0m.5 0h0m1.5 0h0m6 0h0m1.5 0h0m4 0h0m-10 .5h0m5.5 0h0m-21 .5h0m1.5 0h0m1.5 0h0m3 0h0m1 0h0m1.5 0h0m2 0h0m.5 0h0m1.5 0h0m1.5 0h0m1 0h0m1 0h0m2.5 0h0m4 0h0m16.5 0h0m-38 .5h0m11 0h0m8 0h0m-8 1h0m7 0h0m-19.5 .5h0m3.5 0h0m7 0h0m5 0h0m5.5 0h0m-18.5 .5h0m4 0h0m-5 .5h0m21 0h0m-18 .5h0m11 0h0m3.5 1.5h0m10 .5h0m-24 .5h0m6.5 0h0m10 0h0m2 0h0m-19 .5h0m2.5 0h0m2 0h0m4 0h0m7.5 .5h0m1.5 0h0m-16.5 .5h0m-2 .5h0m3 0h0m7 0h0m-.5 .5h0m11.5 0h0m-4.5 1h0m-17 .5h0m2 0h0m6.5 0h0m3.5 0h0m3.5 0h0m-2 .5h0m1 .5h0m2.5 0h0m5.5 1h0m-21 1h0m3.5 1h0m15.5 .5h0m1.5 9.5h0m-14.5 7h0"/>
<path stroke="#0000FF" stroke-width="1.6" stroke-linecap="square" d="M354 38.5h0m-23 .5h0m1 0h0m-1 .5h0m2 0h0m-4.5 .5h0m2 0h0m18.5 0h0m-22 1h0m5 0h0m-2 .5h0m30 0h0m-34 .5h0m1 0h0m1 0h0m1 0h0m12 0h0m-16.5 1h0m1.5 0h0m.5 0h0m-3.5 1h0m2.5 0h0m-2.5 .5h0m21 .5h0m7 .5h0m-31 .5h0m19.5 0h0m8.5 0h0m-26.5 .5h0m-2.5 .5h0m2 0h0m-3 1h0m1.5 0h0m8.5 .5h0m22 0h0m-34.5 .5h0m1.5 .5h0m-3 .5h0m25 0h0m-25 .5h0m1.5 0h0m-3 .5h0m25.5 .5h0m8.5 0h0m-33.5 .5h0m-1 1h0m11.5 0h0m13.5 0h0m-27 .5h0m-2.5 .5h0m3.5 0h0m4 0h0m-6 1h0m20 0h0m-21 .5h0m14 0h0m-16 1h0m1.5 0h0m5 0h0m-7.5 .5h0m.5 0h0m4.5 0h0m-5 .5h0m2.5 0h0m7 0h0m13 0h0m-24.5 .5h0m1 0h0m3.5 0h0m2.5 0h0m1 0h0m1 0h0m13.5 0h0m6 0h0m-25.5 .5h0m-1 .5h0m2.5 0h0m4 0h0m1.5 0h0m1 0h0m13.5 0h0m-25.5 .5h0m1 0h0m1.5 0h0m2.5 0h0m-7 .5h0m6 0h0m1 0h0m1 0h0m-8 1h0m1 0h0m.5 0h0m1.5 0h0m2 0h0m1 0h0m1.5 0h0m.5 0h0m1 0h0m4.5 0h0m-12.5 1h0m2 0h0m1.5 0h0m.5 0h0m4 0h0m2 0h0m12 0h0m-23 .5h0m3.5 0h0m5.5 0h0m-7 .5h0m3.5 0h0m4.5 0h0m8.5 0h0m-18.5 1h0m1 0h0m1 0h0m1.5 0h0m2.5 0h0m2 0h0m1.5 0h0m4.5 0h0m-11.5 .5h0m2.5 0h0m0 0h0m-5 .5h0m2 0h0m4.5 0h0m2 0h0m1 0h0m-10.5 .5h0m1.5 0h0m.5 0h0m3 0h0m5 0h0m10 0h0m3.5 0h0m-25.5 .5h0m.5 0h0m2.5 0h0m2.5 0h0m.5 0h0m7 0h0m1.5 0h0m1 .5h0m15.5 0h0m-32 .5h0m1 0h0m1 0h0m2 0h0m3 0h0m1.5 0h0m.5 0h0m1 0h0m3 0h0m21 0h0m-35 .5h0m4 0h0m3 0h0m0 0h0m4 0h0m-11 .5h0m2 0h0m1 0h0m3.5 0h0m3 0h0m0 0h0m4.5 0h0m-13 .5h0m4 0h0m7 0h0m-11 .5h0m2 0h0m1 0h0m1 0h0m1 0h0m1.5 0h0m1.5 0h0m.5 0h0m1.5 0h0m2 0h0m-13 .5h0m2 0h0m1 0h0m6 0h0m-9 .5h0m1.5 0h0m2.5 0h0m1.5 0h0m0 0h0m1 0h0m1.5 0h0m2 0h0m2 0h0m-3 .5h0m-8 .5h0m1.5 0h0m.5 0h0m2.5 0h0m3 0h0m3 0h0m3 0h0m.5 0h0m5 0h0m-16 .5h0m2 0h0m2.5 0h0m3.5 0h0m-9.5 .5h0m5.5 0h0m2 0h0m1 0h0m1 0h0m1 0h0m-12 .5h0m11 0h0m5.5 0h0m-16.5 .5h0m1 0h0m4 0h0m1 0h0m1 0h0m3.5 0h0m15 0h0m-23.5 .5h0m.5 0h0m6.5 0h0m9.5 0h0m-18.5 .5h0m5.5 0h0m.5 0h0m2.5 0h0m2 0h0m.5 0h0m3 0h0m-12.5 .5h0m2.5 0h0m8.5 0h0m-12.5 .5h0m3 0h0m2.5 0h0m1.5 0h0m1 0h0m3 0h0m4 0h0m-6 .5h0m1 0h0m6.5 0h0m-12 .5h0m3.5 0h0m2 0h0m1 0h0m3 0h0m-7 .5h0m2 0h0m-1.5 .5h0m3.5 0h0m5 0h0m-13 .5h0m.5 0h0m1.5 0h0m1 0h0m2 .5h0m3 0h0m3.5 .5h0m-9.5 .5h0m1.5 0h0m2.5 0h0m2.5 0h0m-10 .5h0m6 0h0m17 0h0m1.5 0h0m-24 .5h0m3 0h0m6.5 .5h0m1.5 .5h0m5.5 0h0m-15.5 1h0m4.5 0h0m13.5 0h0m3.5 0h0m-18 1h0m6.5 0h0m14 0h0m-21.5 .5h0m15.5 0h0m-14.5 .5h0m10 0h0m-2.5 .5h0m-8 .5h0m11.5 0h0m9.5 0h0m-12 .5h0m-2 .5h0m9.5 .5h0m-10.5 .5h0m8 0h0m1 0h0m-14.5 .5h0m1.5 0h0m2 .5h0m10 1.5h0m-1 5h0m-5.5 .5h0m0 1.5h0"/>
<path stroke="#FFD700" stroke-width="1.6" stroke-linecap="square" d="M398 34h0m-25 2h0m10.5 .5h0m-15 1.5h0m1.5 0h0m4 0h0m5 2h0m-13 .5h0m11.5 .5h0m-14 1h0m5.5 0h0m-9 1h0m1 1h0m2 0h0m-11 2h0m4.5 0h0m4.5 1h0m-1 .5h0m5.5 .5h0m-3.5 1h0m-7 1h0m11 0h0m5.5 0h0m-19.5 1h0m3.5 0h0m-5.5 1h0m3 0h0m7 1h0m-22 .5h0m12 .5h0m6 1h0m-13 1h0m2.5 0h0m4 0h0m-3.5 1h0m-3 1h0m5 2h0m-7 .5h0m3 0h0m1 1.5h0m11 .5h0m-18 .5h0m12 0h0m-4 1.5h0m-12 .5h0m6 0h0m1 0h0m-6 1h0m2.5 .5h0m-1.5 .5h0m8 0h0m-9.5 1h0m4.5 .5h0m-3 .5h0m3.5 1h0m9.5 1h0m-20 2h0m7 0h0m-9 1h0m1.5 0h0m-3 1h0m4.5 0h0m2 0h0m1 0h0m7 1h0m-12.5 1h0m-5.5 2h0m-19 1h0m20 0h0m9.5 0h0m-34.5 1h0m3 0h0m5 0h0m2.5 0h0m4.5 0h0m3 0h0m1 0h0m2 0h0m-8 .5h0m22.5 0h0m-32 .5h0m11.5 0h0m18.5 0h0m-32 1h0m7.5 0h0m2.5 0h0m7.5 0h0m5 0h0m2 0h0m-10 .5h0m4 0h0m-12 .5h0m19 0h0m-8 1h0m-11 .5h0m3 0h0m20 0h0m-30 .5h0m3 0h0m6 0h0m8 0h0m4 0h0m2 0h0m-22 .5h0m0 .5h0m22 0h0m5 0h0m-26 .5h0m14 0h0m2 0h0m-18 .5h0m5 0h0m3 0h0m1 0h0m2 0h0m3 0h0m7 0h0m.5 0h0m5 .5h0m-21 .5h0m5 0h0m2.5 0h0m-6 1h0m1 0h0m3 0h0m6.5 0h0m1.5 0h0m-3 .5h0m4.5 0h0m-11 .5h0m3.5 0h0m5 0h0m-15 .5h0m9 0h0m-10.5 .5h0m1.5 0h0m3 0h0m1 0h0m1.5 0h0m1.5 0h0m2 0h0m5 0h0m4 0h0m-6 .5h0m-13 .5h0m12 0h0m11 0h0m-9 .5h0m3 0h0m-17.5 .5h0m10.5 .5h0m6.5 0h0m-9.5 .5h0m25.5 0h0m-27.5 1h0m8.5 0h0m-7.5 1h0m-1.5 .5h0m-2.5 .5h0m5 0h0m5.5 0h0m12.5 0h0m-7 1h0m-11.5 .5h0m5 0h0m-6 .5h0m3.5 0h0m5.5 0h0m2.5 0h0m-6 .5h0m-9 .5h0m2 0h0m9.5 0h0m-4.5 1h0m6 0h0m-10 1h0m11 0h0m3 0h0m-17 1h0m6 0h0m4 0h0m-9.5 .5h0m8 0h0m4 .5h0m-9.5 1h0m11 0h0m-10 1h0m6 0h0m-1.5 .5h0m0 .5h0m-5 1h0m8.5 0h0m-11 .5h0m5 .5h0m2 0h0m5.5 .5h0m-10 .5h0m7.5 1.5h0m-5 .5h0m-2 2.5h0m5.5 0h0"/>
<path stroke="#00FFFF" stroke-width="1.6" stroke-linecap="square" d="M370.5 40h0m1.5 4h0m-37 33h0"/>
<rect x="437.4" y="25" width="1.6" height="5.5" fill="#d0d0d0"/>
<rect x="444.5" y="25" width="1.6" height="5.5" fill="#d0d0d0"/>
<rect x="460.2" y="25" width="1.6" height="5.5" fill="#d0d0d0"/>
<rect x="464.8" y="25" width="1.6" height="5.5" fill="#d0d0d0"/>
<rect x="392.1" y="108.1" width="1.8" height="1.8" fill="#FF00FF"/>
<rect x="397.1" y="114.1" width="1.8" height="1.8" fill="#FF00FF"/>
<rect x="420.9" y="29.7" width="1.8" height="1.8" fill="#A52A2A"/>
<rect x="432.4" y="29.7" width="1.8" height="1.8" fill="#A52A2A"/>
<rect x="422.1" y="33.6" width="1.8" height="1.8" fill="#FFD700"/>
<rect x="386.1" y="40.1" width="1.8" height="1.8" fill="#FF00FF"/>
<rect x="396.1" y="39.6" width="1.8" height="1.8" fill="#00FFFF"/>
<rect x="381.1" y="48.1" width="1.8" height="1.8" fill="#00FFFF"/>
<rect x="407.1" y="49.1" width="1.8" height="1.8" fill="#FF00FF"/></g>
<line x1="278.5" y1="28.1" x2="473.5" y2="28.1" stroke="#000" stroke-width="1.7"/>
<rect x="278.5" y="17.0" width="194.0" height="259.0" fill="none" stroke="#000" stroke-width="1"/>
<line x1="274.0" y1="28" x2="278.5" y2="28" stroke="#000" stroke-width="1"/>
<text transform="translate(269,28) rotate(-90)" text-anchor="middle" class="tk" font-family='"Liberation Sans", sans-serif' font-size="13">0</text>
<line x1="274.0" y1="62.1" x2="278.5" y2="62.1" stroke="#000" stroke-width="1"/>
<text transform="translate(269,62.1) rotate(-90)" text-anchor="middle" class="tk" font-family='"Liberation Sans", sans-serif' font-size="13">−2</text>
<line x1="274.0" y1="96.3" x2="278.5" y2="96.3" stroke="#000" stroke-width="1"/>
<text transform="translate(269,96.3) rotate(-90)" text-anchor="middle" class="tk" font-family='"Liberation Sans", sans-serif' font-size="13">−4</text>
<line x1="274.0" y1="130.4" x2="278.5" y2="130.4" stroke="#000" stroke-width="1"/>
<text transform="translate(269,130.4) rotate(-90)" text-anchor="middle" class="tk" font-family='"Liberation Sans", sans-serif' font-size="13">−6</text>
<line x1="274.0" y1="164.5" x2="278.5" y2="164.5" stroke="#000" stroke-width="1"/>
<text transform="translate(269,164.5) rotate(-90)" text-anchor="middle" class="tk" font-family='"Liberation Sans", sans-serif' font-size="13">−8</text>
<line x1="274.0" y1="198.6" x2="278.5" y2="198.6" stroke="#000" stroke-width="1"/>
<text transform="translate(269,198.6) rotate(-90)" text-anchor="middle" class="tk" font-family='"Liberation Sans", sans-serif' font-size="13">−10</text>
<line x1="274.0" y1="232.8" x2="278.5" y2="232.8" stroke="#000" stroke-width="1"/>
<text transform="translate(269,232.8) rotate(-90)" text-anchor="middle" class="tk" font-family='"Liberation Sans", sans-serif' font-size="13">−12</text>
<line x1="274.0" y1="266.9" x2="278.5" y2="266.9" stroke="#000" stroke-width="1"/>
<text transform="translate(269,266.9) rotate(-90)" text-anchor="middle" class="tk" font-family='"Liberation Sans", sans-serif' font-size="13">−14</text>
<line x1="310.3" y1="276" x2="310.3" y2="280.5" stroke="#000" stroke-width="1"/>
<text x="310.3" y="290.8" text-anchor="middle" class="tk" font-family='"Liberation Sans", sans-serif' font-size="13">−5</text>
<line x1="348.8" y1="276" x2="348.8" y2="280.5" stroke="#000" stroke-width="1"/>
<text x="348.8" y="290.8" text-anchor="middle" class="tk" font-family='"Liberation Sans", sans-serif' font-size="13">0</text>
<line x1="387.3" y1="276" x2="387.3" y2="280.5" stroke="#000" stroke-width="1"/>
<text x="387.3" y="290.8" text-anchor="middle" class="tk" font-family='"Liberation Sans", sans-serif' font-size="13">5</text>
<line x1="425.8" y1="276" x2="425.8" y2="280.5" stroke="#000" stroke-width="1"/>
<text x="425.8" y="290.8" text-anchor="middle" class="tk" font-family='"Liberation Sans", sans-serif' font-size="13">10</text>
<line x1="464.2" y1="276" x2="464.2" y2="280.5" stroke="#000" stroke-width="1"/>
<text x="464.2" y="290.8" text-anchor="middle" class="tk" font-family='"Liberation Sans", sans-serif' font-size="13">15</text>
<text x="375.3" y="9.2" text-anchor="middle" font-family='"Liberation Sans", sans-serif' font-weight="bold" font-size="12.85">CvsC, counts</text>
<text x="375.3" y="307.3" text-anchor="middle" font-family='"Liberation Sans", sans-serif' font-size="12.75">average expression [log2]</text>
<text transform="translate(252.2,146.5) rotate(-90)" text-anchor="middle" font-family='"Liberation Sans", sans-serif' font-size="12.8">fold change [log2]</text>
<rect x="287.5" y="175.8" width="7" height="6.6" fill="#BEBEBE" stroke="#000" stroke-width="0.9"/>
<text x="304.1" y="182.5" font-family='"Liberation Sans", sans-serif' font-size="9.55">none</text>
<rect x="287.5" y="187.9" width="7" height="6.6" fill="#00FF00" stroke="#000" stroke-width="0.9"/>
<text x="304.1" y="194.6" font-family='"Liberation Sans", sans-serif' font-size="9.55">limma</text>
<rect x="287.5" y="200.1" width="7" height="6.6" fill="#0000FF" stroke="#000" stroke-width="0.9"/>
<text x="304.1" y="206.8" font-family='"Liberation Sans", sans-serif' font-size="9.55">edgeR</text>
<rect x="287.5" y="212.3" width="7" height="6.6" fill="#FF0000" stroke="#000" stroke-width="0.9"/>
<text x="304.1" y="219" font-family='"Liberation Sans", sans-serif' font-size="9.55">DESeq2</text>
<rect x="287.5" y="224.5" width="7" height="6.6" fill="#00FFFF" stroke="#000" stroke-width="0.9"/>
<text x="304.1" y="231.2" font-family='"Liberation Sans", sans-serif' font-size="9.55">limma &amp; edgeR</text>
<rect x="287.5" y="236.7" width="7" height="6.6" fill="#FF00FF" stroke="#000" stroke-width="0.9"/>
<text x="304.1" y="243.4" font-family='"Liberation Sans", sans-serif' font-size="9.55">edgeR &amp; DESeq2</text>
<rect x="287.5" y="248.9" width="7" height="6.6" fill="#A52A2A" stroke="#000" stroke-width="0.9"/>
<text x="304.1" y="255.6" font-family='"Liberation Sans", sans-serif' font-size="9.55">DESeq2 &amp; limma</text>
<rect x="287.5" y="261.1" width="7" height="6.6" fill="#FFD700" stroke="#000" stroke-width="0.9"/>
<text x="304.1" y="267.8" font-family='"Liberation Sans", sans-serif' font-size="9.55">limma &amp; edgeR &amp; DESeq2</text>
</svg>
</body></html>
